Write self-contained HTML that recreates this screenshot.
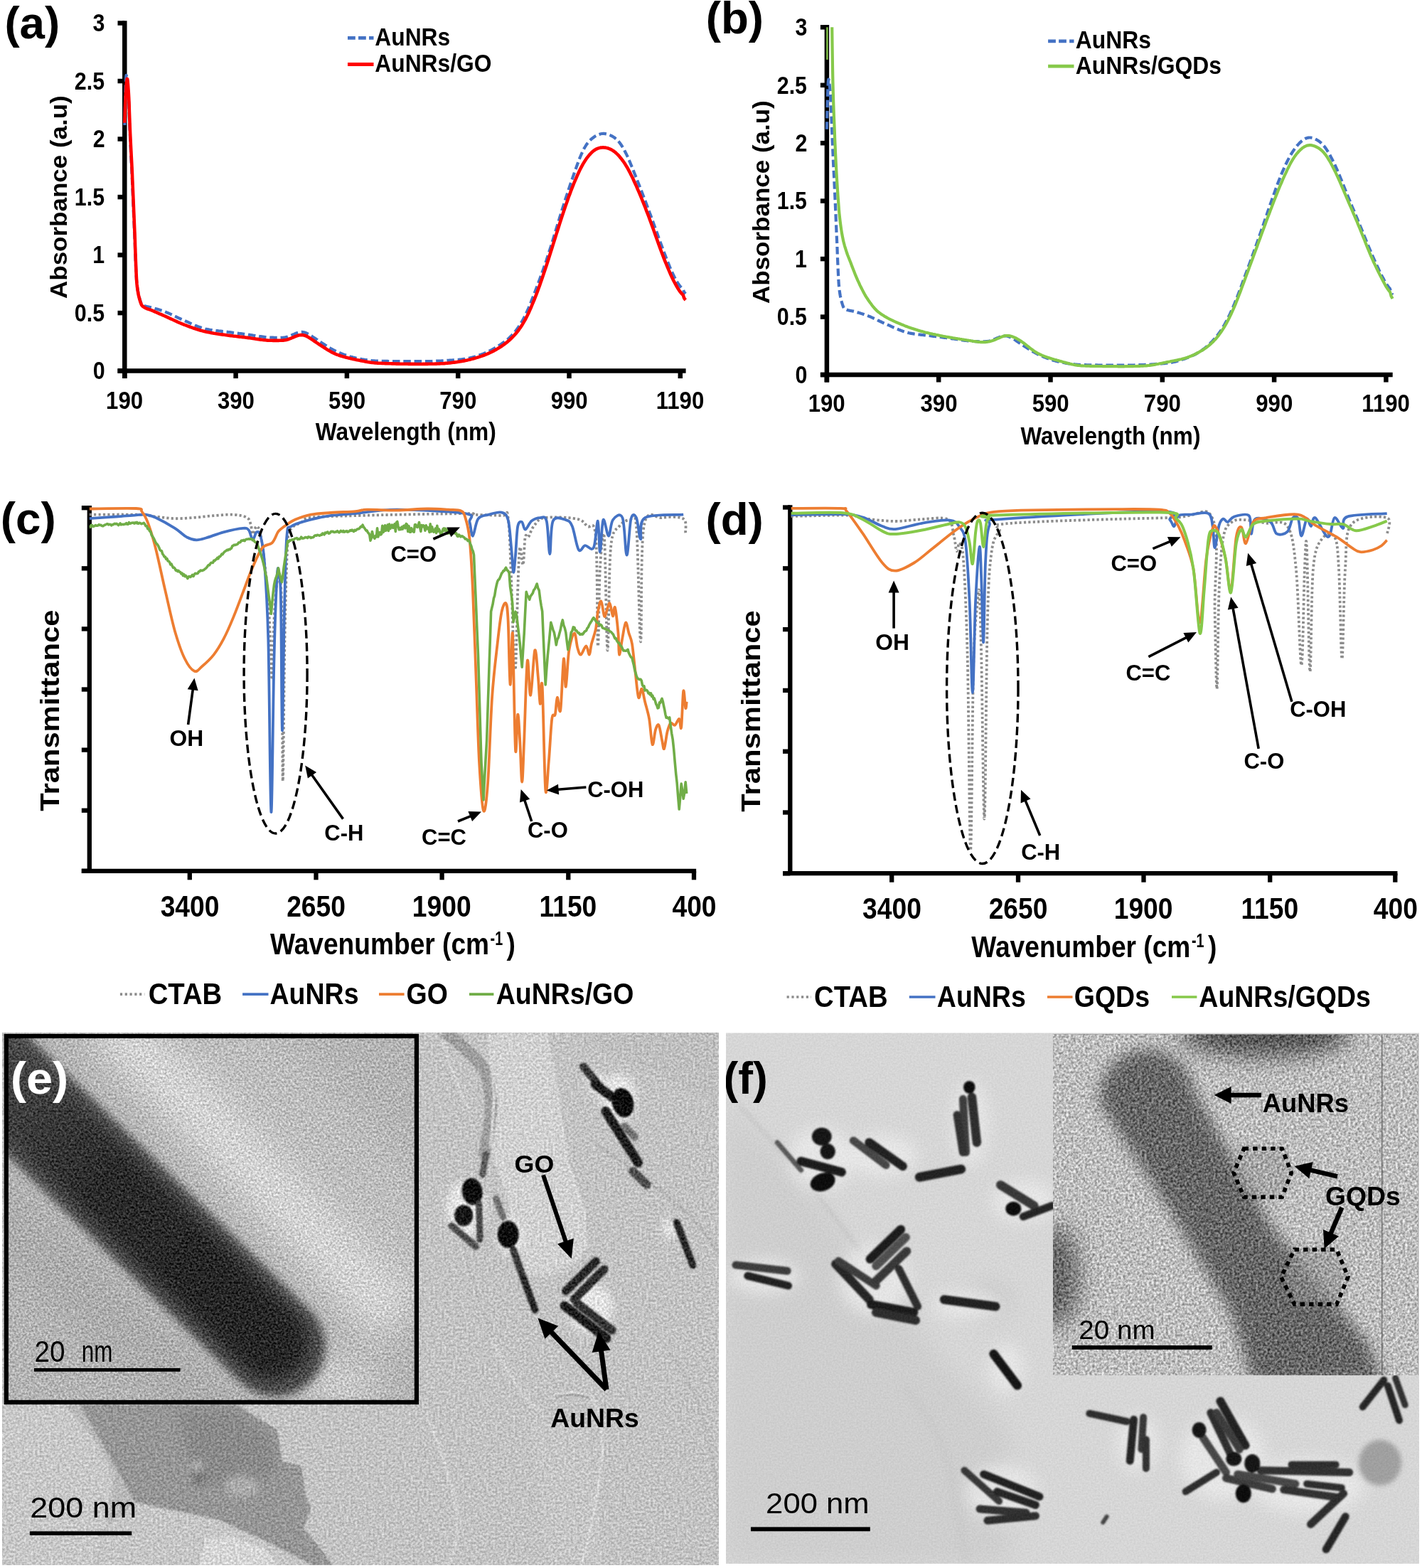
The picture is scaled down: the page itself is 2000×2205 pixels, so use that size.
<!DOCTYPE html>
<html><head><meta charset="utf-8"><title>Figure</title>
<style>html,body{margin:0;padding:0;background:#fff;} body{width:2000px;height:2205px;overflow:hidden;} svg{display:block;}</style>
</head><body>
<svg width="2000" height="2205" viewBox="0 0 2000 2205">
<defs>
<filter id="nz1" x="0" y="0" width="1" height="1" color-interpolation-filters="sRGB">
  <feTurbulence type="fractalNoise" baseFrequency="0.45" numOctaves="2" seed="3" result="t"/>
  <feColorMatrix in="t" type="matrix" values="1 0 0 0 0  1 0 0 0 0  1 0 0 0 0  0 0 0 0 1" result="n"/>
  <feComposite in="SourceGraphic" in2="n" operator="arithmetic" k1="0" k2="1" k3="0.30" k4="-0.15"/>
</filter>
<filter id="nz2" x="0" y="0" width="1" height="1" color-interpolation-filters="sRGB">
  <feTurbulence type="fractalNoise" baseFrequency="0.34" numOctaves="2" seed="7" result="t"/>
  <feColorMatrix in="t" type="matrix" values="1 0 0 0 0  1 0 0 0 0  1 0 0 0 0  0 0 0 0 1" result="n"/>
  <feComposite in="SourceGraphic" in2="n" operator="arithmetic" k1="0" k2="1" k3="0.55" k4="-0.275"/>
</filter>
<filter id="nz3" x="0" y="0" width="1" height="1" color-interpolation-filters="sRGB">
  <feTurbulence type="fractalNoise" baseFrequency="0.32" numOctaves="2" seed="11" result="t"/>
  <feColorMatrix in="t" type="matrix" values="1 0 0 0 0  1 0 0 0 0  1 0 0 0 0  0 0 0 0 1" result="n"/>
  <feComposite in="SourceGraphic" in2="n" operator="arithmetic" k1="0" k2="1" k3="0.42" k4="-0.21"/>
</filter>
<filter id="nz4" x="0" y="0" width="1" height="1" color-interpolation-filters="sRGB">
  <feTurbulence type="fractalNoise" baseFrequency="0.4" numOctaves="2" seed="5" result="t"/>
  <feColorMatrix in="t" type="matrix" values="1 0 0 0 0  1 0 0 0 0  1 0 0 0 0  0 0 0 0 1" result="n"/>
  <feComposite in="SourceGraphic" in2="n" operator="arithmetic" k1="0" k2="1" k3="0.10" k4="-0.05"/>
</filter>
<filter id="nz5" x="0" y="0" width="1" height="1" color-interpolation-filters="sRGB">
  <feTurbulence type="fractalNoise" baseFrequency="0.3" numOctaves="2" seed="9" result="t"/>
  <feColorMatrix in="t" type="matrix" values="1 0 0 0 0  1 0 0 0 0  1 0 0 0 0  0 0 0 0 1" result="n"/>
  <feComposite in="SourceGraphic" in2="n" operator="arithmetic" k1="0" k2="1" k3="0.75" k4="-0.36"/>
</filter>
<filter id="b1" x="-20%" y="-20%" width="140%" height="140%"><feGaussianBlur stdDeviation="1.2"/></filter>
<filter id="b3" x="-50%" y="-50%" width="200%" height="200%"><feGaussianBlur stdDeviation="3"/></filter>
<filter id="b6" x="-50%" y="-50%" width="200%" height="200%"><feGaussianBlur stdDeviation="6"/></filter>
<filter id="b10" x="-50%" y="-50%" width="200%" height="200%"><feGaussianBlur stdDeviation="10"/></filter>
<filter id="b16" x="-50%" y="-50%" width="200%" height="200%"><feGaussianBlur stdDeviation="16"/></filter>
<filter id="b25" x="-50%" y="-50%" width="200%" height="200%"><feGaussianBlur stdDeviation="25"/></filter>
<clipPath id="ce"><rect x="3" y="1452" width="1008" height="749"/></clipPath>
<clipPath id="cei"><rect x="8" y="1455" width="579" height="518"/></clipPath>
<clipPath id="cf"><rect x="1021" y="1452.5" width="975" height="746.5"/></clipPath>
<clipPath id="cfi"><rect x="1481" y="1454.5" width="513.5" height="479.5"/></clipPath>
<linearGradient id="rodg" gradientUnits="userSpaceOnUse" x1="0" y1="1450" x2="390" y2="1890"><stop offset="0" stop-color="#4a4a4a"/><stop offset="0.45" stop-color="#2a2a2a"/><stop offset="1" stop-color="#262626"/></linearGradient></defs>
<rect width="2000" height="2205" fill="#fff"/>
<g id="pa">
<line x1="175.3" y1="29.25" x2="175.3" y2="532.1" stroke="#000" stroke-width="6.5"/>
<line x1="165.5" y1="521.6" x2="964.6" y2="521.6" stroke="#000" stroke-width="6.5"/>
<line x1="165.5" y1="521.6" x2="175.3" y2="521.6" stroke="#000" stroke-width="6.5"/>
<line x1="165.5" y1="440.1" x2="175.3" y2="440.1" stroke="#000" stroke-width="6.5"/>
<line x1="165.5" y1="358.6" x2="175.3" y2="358.6" stroke="#000" stroke-width="6.5"/>
<line x1="165.5" y1="277.1" x2="175.3" y2="277.1" stroke="#000" stroke-width="6.5"/>
<line x1="165.5" y1="195.5" x2="175.3" y2="195.5" stroke="#000" stroke-width="6.5"/>
<line x1="165.5" y1="114.0" x2="175.3" y2="114.0" stroke="#000" stroke-width="6.5"/>
<line x1="165.5" y1="32.5" x2="175.3" y2="32.5" stroke="#000" stroke-width="6.5"/>
<line x1="175.3" y1="521.6" x2="175.3" y2="532.1" stroke="#000" stroke-width="6.5"/>
<line x1="331.6" y1="521.6" x2="331.6" y2="532.1" stroke="#000" stroke-width="6.5"/>
<line x1="487.9" y1="521.6" x2="487.9" y2="532.1" stroke="#000" stroke-width="6.5"/>
<line x1="644.2" y1="521.6" x2="644.2" y2="532.1" stroke="#000" stroke-width="6.5"/>
<line x1="800.5" y1="521.6" x2="800.5" y2="532.1" stroke="#000" stroke-width="6.5"/>
<line x1="956.8" y1="521.6" x2="956.8" y2="532.1" stroke="#000" stroke-width="6.5"/>
<path d="M175.3,176.0 L175.7,157.7 L176.1,141.0 L176.5,126.8 L176.9,115.7 L177.3,108.4 L177.6,105.9 L178.0,106.5 L178.4,108.3 L178.8,111.0 L179.2,114.3 L179.6,118.1 L180.0,122.2 L180.4,127.5 L180.8,135.0 L181.2,144.1 L181.6,154.3 L181.9,165.1 L182.3,175.9 L182.7,186.2 L183.1,195.5 L183.5,204.0 L183.9,212.2 L184.3,220.2 L184.7,228.1 L185.1,236.1 L185.5,244.1 L185.9,252.3 L186.2,260.8 L186.6,269.6 L187.0,278.7 L187.4,288.0 L187.8,297.4 L188.2,306.9 L188.6,316.2 L189.0,325.3 L189.4,334.1 L189.8,343.1 L190.1,352.7 L190.5,362.4 L190.9,371.8 L191.3,380.6 L191.7,388.4 L192.1,394.8 L192.5,399.3 L192.9,402.6 L193.3,405.5 L193.7,408.1 L194.1,410.4 L194.4,412.4 L194.8,414.2 L195.2,415.8 L195.6,417.3 L196.0,418.7 L196.4,420.1 L196.8,421.4 L197.2,422.7 L197.6,424.0 L198.0,425.1 L198.4,426.1 L198.7,427.0 L199.1,427.7 L199.5,428.2 L199.9,428.6 L200.3,428.9 L200.7,429.1 L201.1,429.3 L201.5,429.5 L201.9,429.6 L202.3,429.8 L202.7,430.0 L203.0,430.1 L203.4,430.3 L203.8,430.4 L204.2,430.5 L204.6,430.6 L205.0,430.7 L205.4,430.8 L205.8,430.9 L206.2,431.0 L206.6,431.1 L207.0,431.2 L207.3,431.3 L207.7,431.4 L208.1,431.4 L208.5,431.5 L208.9,431.6 L209.3,431.6 L209.7,431.7 L210.1,431.8 L210.5,431.9 L212.0,432.2 L213.6,432.5 L215.2,433.0 L216.7,433.4 L218.3,433.9 L219.8,434.4 L221.4,434.8 L223.0,435.3 L224.5,435.8 L226.1,436.3 L227.7,436.8 L229.2,437.3 L230.8,437.9 L232.3,438.5 L233.9,439.1 L235.5,439.8 L237.0,440.4 L238.6,441.1 L240.2,441.8 L241.7,442.6 L243.3,443.3 L244.9,444.1 L246.4,444.8 L248.0,445.6 L249.5,446.3 L251.1,447.1 L252.7,447.8 L254.2,448.5 L255.8,449.2 L257.4,449.9 L258.9,450.6 L260.5,451.3 L262.0,452.0 L263.6,452.7 L265.2,453.4 L266.7,454.1 L268.3,454.8 L269.9,455.5 L271.4,456.2 L273.0,456.9 L274.6,457.6 L276.1,458.2 L277.7,458.9 L279.2,459.5 L280.8,460.1 L282.4,460.6 L283.9,461.1 L285.5,461.6 L287.1,462.1 L288.6,462.5 L290.2,462.8 L291.7,463.1 L293.3,463.4 L294.9,463.7 L296.4,464.0 L298.0,464.2 L299.6,464.4 L301.1,464.6 L302.7,464.8 L304.2,465.0 L305.8,465.2 L307.4,465.4 L308.9,465.5 L310.5,465.7 L312.1,465.9 L313.6,466.1 L315.2,466.2 L316.8,466.4 L318.3,466.6 L319.9,466.8 L321.4,467.0 L323.0,467.2 L324.6,467.4 L326.1,467.6 L327.7,467.8 L329.3,468.0 L330.8,468.2 L332.4,468.4 L333.9,468.6 L335.5,468.8 L337.1,469.0 L338.6,469.2 L340.2,469.4 L341.8,469.6 L343.3,469.8 L344.9,470.0 L346.4,470.2 L348.0,470.4 L349.6,470.7 L351.1,470.9 L352.7,471.1 L354.3,471.3 L355.8,471.6 L357.4,471.8 L359.0,472.0 L360.5,472.3 L362.1,472.5 L363.6,472.7 L365.2,473.0 L366.8,473.2 L368.3,473.4 L369.9,473.6 L371.5,473.8 L373.0,474.0 L374.6,474.1 L376.1,474.3 L377.7,474.4 L379.3,474.5 L380.8,474.6 L382.4,474.7 L384.0,474.7 L385.5,474.8 L387.1,474.8 L388.6,474.9 L390.2,474.9 L391.8,475.0 L393.3,475.0 L394.9,474.9 L396.5,474.9 L398.0,474.8 L399.6,474.6 L401.2,474.4 L402.7,474.0 L404.3,473.6 L405.8,473.1 L407.4,472.5 L409.0,471.8 L410.5,471.2 L412.1,470.5 L413.7,469.8 L415.2,469.1 L416.8,468.5 L418.3,468.0 L419.9,467.5 L421.5,467.2 L423.0,467.0 L424.6,466.9 L426.2,467.0 L427.7,467.3 L429.3,467.7 L430.9,468.4 L432.4,469.1 L434.0,469.9 L435.5,470.9 L437.1,471.9 L438.7,472.9 L440.2,473.9 L441.8,475.0 L443.4,476.1 L444.9,477.1 L446.5,478.1 L448.0,479.2 L449.6,480.2 L451.2,481.3 L452.7,482.3 L454.3,483.3 L455.9,484.3 L457.4,485.3 L459.0,486.3 L460.5,487.3 L462.1,488.3 L463.7,489.2 L465.2,490.1 L466.8,491.0 L468.4,491.8 L469.9,492.6 L471.5,493.4 L473.1,494.1 L474.6,494.8 L476.2,495.5 L477.7,496.2 L479.3,496.8 L480.9,497.5 L482.4,498.1 L484.0,498.7 L485.6,499.2 L487.1,499.8 L488.7,500.3 L490.2,500.8 L491.8,501.3 L493.4,501.7 L494.9,502.1 L496.5,502.6 L498.1,502.9 L499.6,503.3 L501.2,503.7 L502.7,504.0 L504.3,504.3 L505.9,504.6 L507.4,504.9 L509.0,505.2 L510.6,505.5 L512.1,505.7 L513.7,506.0 L515.3,506.2 L516.8,506.4 L518.4,506.6 L519.9,506.8 L521.5,507.0 L523.1,507.2 L524.6,507.3 L526.2,507.4 L527.8,507.5 L529.3,507.6 L530.9,507.7 L532.4,507.7 L534.0,507.8 L535.6,507.8 L537.1,507.8 L538.7,507.9 L540.3,507.9 L541.8,507.9 L543.4,507.9 L544.9,507.9 L546.5,508.0 L548.1,508.0 L549.6,508.0 L551.2,508.0 L552.8,508.0 L554.3,508.1 L555.9,508.1 L557.5,508.1 L559.0,508.1 L560.6,508.1 L562.1,508.1 L563.7,508.1 L565.3,508.1 L566.8,508.2 L568.4,508.2 L570.0,508.2 L571.5,508.2 L573.1,508.2 L574.6,508.2 L576.2,508.2 L577.8,508.2 L579.3,508.2 L580.9,508.2 L582.5,508.2 L584.0,508.2 L585.6,508.2 L587.2,508.2 L588.7,508.2 L590.3,508.2 L591.8,508.2 L593.4,508.2 L595.0,508.2 L596.5,508.2 L598.1,508.2 L599.7,508.1 L601.2,508.1 L602.8,508.1 L604.3,508.0 L605.9,508.0 L607.5,508.0 L609.0,507.9 L610.6,507.9 L612.2,507.8 L613.7,507.7 L615.3,507.7 L616.8,507.6 L618.4,507.5 L620.0,507.5 L621.5,507.4 L623.1,507.3 L624.7,507.2 L626.2,507.1 L627.8,507.0 L629.4,506.9 L630.9,506.8 L632.5,506.7 L634.0,506.6 L635.6,506.5 L637.2,506.4 L638.7,506.3 L640.3,506.2 L641.9,506.1 L643.4,505.9 L645.0,505.8 L646.5,505.6 L648.1,505.5 L649.7,505.3 L651.2,505.1 L652.8,504.9 L654.4,504.7 L655.9,504.5 L657.5,504.2 L659.0,503.9 L660.6,503.5 L662.2,503.1 L663.7,502.7 L665.3,502.3 L666.9,501.9 L668.4,501.4 L670.0,500.9 L671.6,500.4 L673.1,499.9 L674.7,499.3 L676.2,498.8 L677.8,498.2 L679.4,497.6 L680.9,497.0 L682.5,496.3 L684.1,495.7 L685.6,494.9 L687.2,494.2 L688.7,493.4 L690.3,492.6 L691.9,491.8 L693.4,490.9 L695.0,490.1 L696.6,489.1 L698.1,488.2 L699.7,487.3 L701.2,486.3 L702.8,485.3 L704.4,484.3 L705.9,483.2 L707.5,482.1 L709.1,481.0 L710.6,479.8 L712.2,478.6 L713.8,477.3 L715.3,476.0 L716.9,474.5 L718.4,473.0 L720.0,471.4 L721.6,469.7 L723.1,467.9 L724.7,466.0 L726.3,464.0 L727.8,461.9 L729.4,459.6 L730.9,457.3 L732.5,454.8 L734.1,452.2 L735.6,449.4 L737.2,446.4 L738.8,443.3 L740.3,440.1 L741.9,436.6 L743.5,433.0 L745.0,429.3 L746.6,425.5 L748.1,421.5 L749.7,417.6 L751.3,413.5 L752.8,409.4 L754.4,405.3 L756.0,401.2 L757.5,397.0 L759.1,392.7 L760.6,388.4 L762.2,384.1 L763.8,379.7 L765.3,375.3 L766.9,370.7 L768.5,366.1 L770.0,361.4 L771.6,356.7 L773.1,351.8 L774.7,346.9 L776.3,341.9 L777.8,336.8 L779.4,331.6 L781.0,326.5 L782.5,321.3 L784.1,316.2 L785.7,311.0 L787.2,305.9 L788.8,300.8 L790.3,295.8 L791.9,290.8 L793.5,285.9 L795.0,281.0 L796.6,276.2 L798.2,271.4 L799.7,266.7 L801.3,262.0 L802.8,257.4 L804.4,252.8 L806.0,248.3 L807.5,243.8 L809.1,239.4 L810.7,235.0 L812.2,230.7 L813.8,226.5 L815.3,222.5 L816.9,218.7 L818.5,215.1 L820.0,211.7 L821.6,208.7 L823.2,206.0 L824.7,203.6 L826.3,201.4 L827.9,199.5 L829.4,197.8 L831.0,196.3 L832.5,194.9 L834.1,193.7 L835.7,192.5 L837.2,191.5 L838.8,190.6 L840.4,189.8 L841.9,189.2 L843.5,188.7 L845.0,188.3 L846.6,188.0 L848.2,187.9 L849.7,187.9 L851.3,188.1 L852.9,188.4 L854.4,188.8 L856.0,189.3 L857.5,189.9 L859.1,190.6 L860.7,191.4 L862.2,192.3 L863.8,193.3 L865.4,194.5 L866.9,195.8 L868.5,197.3 L870.1,199.0 L871.6,200.9 L873.2,203.0 L874.7,205.3 L876.3,207.9 L877.9,210.7 L879.4,213.7 L881.0,216.9 L882.6,220.2 L884.1,223.7 L885.7,227.3 L887.2,231.0 L888.8,234.8 L890.4,238.7 L891.9,242.6 L893.5,246.5 L895.1,250.5 L896.6,254.5 L898.2,258.5 L899.8,262.5 L901.3,266.5 L902.9,270.5 L904.4,274.5 L906.0,278.6 L907.6,282.7 L909.1,286.8 L910.7,291.0 L912.3,295.1 L913.8,299.4 L915.4,303.6 L916.9,307.9 L918.5,312.2 L920.1,316.6 L921.6,320.9 L923.2,325.3 L924.8,329.6 L926.3,334.0 L927.9,338.3 L929.4,342.6 L931.0,346.8 L932.6,351.0 L934.1,355.2 L935.7,359.3 L937.3,363.4 L938.8,367.4 L940.4,371.4 L942.0,375.2 L943.5,378.9 L945.1,382.4 L946.6,385.8 L948.2,389.0 L949.8,392.0 L951.3,394.8 L952.9,397.4 L954.5,399.8 L956.0,401.9 L957.6,403.8 L959.1,405.4 L960.7,406.8 L962.3,410.9 L963.8,412.4 L964.3,412.9" fill="none" stroke="#4472C4" stroke-width="4.2" stroke-dasharray="10.5 4.8" stroke-linejoin="round"/>
<path d="M175.3,172.7 L175.7,159.5 L176.1,147.5 L176.5,137.5 L176.9,130.3 L177.3,124.9 L177.6,119.9 L178.0,115.6 L178.4,112.5 L178.8,110.9 L179.2,111.3 L179.6,114.1 L180.0,118.8 L180.4,124.4 L180.8,130.3 L181.2,137.4 L181.6,146.4 L181.9,156.7 L182.3,167.4 L182.7,177.9 L183.1,187.4 L183.5,195.8 L183.9,203.9 L184.3,211.6 L184.7,219.3 L185.1,226.9 L185.5,234.6 L185.9,242.6 L186.2,251.0 L186.6,259.8 L187.0,268.9 L187.4,278.3 L187.8,287.9 L188.2,297.5 L188.6,307.1 L189.0,316.6 L189.4,326.0 L189.8,335.7 L190.1,346.2 L190.5,357.0 L190.9,367.6 L191.3,377.6 L191.7,386.5 L192.1,393.9 L192.5,399.2 L192.9,402.8 L193.3,405.9 L193.7,408.6 L194.1,410.9 L194.4,413.0 L194.8,414.9 L195.2,416.5 L195.6,418.1 L196.0,419.6 L196.4,421.0 L196.8,422.4 L197.2,423.7 L197.6,424.9 L198.0,426.1 L198.4,427.1 L198.7,428.0 L199.1,428.8 L199.5,429.4 L199.9,429.9 L200.3,430.3 L200.7,430.6 L201.1,430.9 L201.5,431.2 L201.9,431.5 L202.3,431.8 L202.7,432.0 L203.0,432.3 L203.4,432.5 L203.8,432.7 L204.2,433.0 L204.6,433.2 L205.0,433.3 L205.4,433.5 L205.8,433.7 L206.2,433.9 L206.6,434.0 L207.0,434.2 L207.3,434.3 L207.7,434.4 L208.1,434.6 L208.5,434.7 L208.9,434.8 L209.3,435.0 L209.7,435.1 L210.1,435.2 L210.5,435.4 L212.0,435.9 L213.6,436.5 L215.2,437.2 L216.7,437.9 L218.3,438.6 L219.8,439.2 L221.4,439.9 L223.0,440.6 L224.5,441.3 L226.1,441.9 L227.7,442.6 L229.2,443.3 L230.8,444.0 L232.3,444.7 L233.9,445.4 L235.5,446.1 L237.0,446.8 L238.6,447.6 L240.2,448.3 L241.7,449.0 L243.3,449.7 L244.9,450.5 L246.4,451.2 L248.0,451.9 L249.5,452.6 L251.1,453.3 L252.7,454.0 L254.2,454.7 L255.8,455.3 L257.4,455.9 L258.9,456.6 L260.5,457.1 L262.0,457.7 L263.6,458.3 L265.2,458.9 L266.7,459.5 L268.3,460.1 L269.9,460.6 L271.4,461.2 L273.0,461.7 L274.6,462.2 L276.1,462.8 L277.7,463.3 L279.2,463.7 L280.8,464.2 L282.4,464.7 L283.9,465.1 L285.5,465.5 L287.1,465.9 L288.6,466.3 L290.2,466.7 L291.7,467.0 L293.3,467.3 L294.9,467.6 L296.4,467.9 L298.0,468.2 L299.6,468.5 L301.1,468.8 L302.7,469.0 L304.2,469.3 L305.8,469.5 L307.4,469.7 L308.9,470.0 L310.5,470.2 L312.1,470.4 L313.6,470.6 L315.2,470.8 L316.8,471.0 L318.3,471.3 L319.9,471.5 L321.4,471.7 L323.0,471.9 L324.6,472.1 L326.1,472.3 L327.7,472.5 L329.3,472.7 L330.8,472.8 L332.4,473.0 L333.9,473.2 L335.5,473.4 L337.1,473.6 L338.6,473.8 L340.2,473.9 L341.8,474.1 L343.3,474.3 L344.9,474.5 L346.4,474.7 L348.0,474.9 L349.6,475.1 L351.1,475.3 L352.7,475.5 L354.3,475.7 L355.8,476.0 L357.4,476.2 L359.0,476.4 L360.5,476.7 L362.1,476.9 L363.6,477.1 L365.2,477.4 L366.8,477.6 L368.3,477.8 L369.9,478.0 L371.5,478.2 L373.0,478.3 L374.6,478.5 L376.1,478.6 L377.7,478.7 L379.3,478.7 L380.8,478.8 L382.4,478.8 L384.0,478.9 L385.5,478.9 L387.1,478.9 L388.6,478.9 L390.2,478.9 L391.8,478.9 L393.3,478.8 L394.9,478.8 L396.5,478.7 L398.0,478.6 L399.6,478.4 L401.2,478.2 L402.7,477.9 L404.3,477.5 L405.8,477.0 L407.4,476.4 L409.0,475.8 L410.5,475.2 L412.1,474.5 L413.7,473.9 L415.2,473.2 L416.8,472.6 L418.3,472.1 L419.9,471.6 L421.5,471.3 L423.0,471.1 L424.6,471.0 L426.2,471.2 L427.7,471.5 L429.3,472.0 L430.9,472.6 L432.4,473.4 L434.0,474.3 L435.5,475.3 L437.1,476.3 L438.7,477.4 L440.2,478.4 L441.8,479.5 L443.4,480.6 L444.9,481.6 L446.5,482.7 L448.0,483.7 L449.6,484.7 L451.2,485.7 L452.7,486.8 L454.3,487.8 L455.9,488.8 L457.4,489.8 L459.0,490.8 L460.5,491.8 L462.1,492.7 L463.7,493.6 L465.2,494.5 L466.8,495.4 L468.4,496.2 L469.9,496.9 L471.5,497.6 L473.1,498.3 L474.6,498.9 L476.2,499.4 L477.7,500.0 L479.3,500.5 L480.9,500.9 L482.4,501.4 L484.0,501.8 L485.6,502.3 L487.1,502.7 L488.7,503.1 L490.2,503.4 L491.8,503.8 L493.4,504.2 L494.9,504.5 L496.5,504.9 L498.1,505.2 L499.6,505.5 L501.2,505.9 L502.7,506.2 L504.3,506.5 L505.9,506.8 L507.4,507.2 L509.0,507.5 L510.6,507.8 L512.1,508.1 L513.7,508.4 L515.3,508.7 L516.8,508.9 L518.4,509.2 L519.9,509.4 L521.5,509.7 L523.1,509.9 L524.6,510.0 L526.2,510.2 L527.8,510.4 L529.3,510.5 L530.9,510.6 L532.4,510.7 L534.0,510.8 L535.6,510.8 L537.1,510.9 L538.7,511.0 L540.3,511.0 L541.8,511.1 L543.4,511.1 L544.9,511.2 L546.5,511.2 L548.1,511.3 L549.6,511.3 L551.2,511.4 L552.8,511.4 L554.3,511.5 L555.9,511.5 L557.5,511.6 L559.0,511.6 L560.6,511.6 L562.1,511.7 L563.7,511.7 L565.3,511.7 L566.8,511.8 L568.4,511.8 L570.0,511.8 L571.5,511.8 L573.1,511.8 L574.6,511.9 L576.2,511.9 L577.8,511.9 L579.3,511.9 L580.9,511.9 L582.5,511.9 L584.0,512.0 L585.6,512.0 L587.2,512.0 L588.7,512.0 L590.3,512.0 L591.8,512.0 L593.4,512.0 L595.0,511.9 L596.5,511.9 L598.1,511.9 L599.7,511.9 L601.2,511.9 L602.8,511.8 L604.3,511.8 L605.9,511.8 L607.5,511.7 L609.0,511.7 L610.6,511.7 L612.2,511.6 L613.7,511.6 L615.3,511.5 L616.8,511.5 L618.4,511.4 L620.0,511.3 L621.5,511.2 L623.1,511.2 L624.7,511.1 L626.2,510.9 L627.8,510.8 L629.4,510.7 L630.9,510.5 L632.5,510.4 L634.0,510.2 L635.6,510.0 L637.2,509.8 L638.7,509.6 L640.3,509.4 L641.9,509.2 L643.4,508.9 L645.0,508.7 L646.5,508.4 L648.1,508.2 L649.7,507.9 L651.2,507.6 L652.8,507.4 L654.4,507.0 L655.9,506.7 L657.5,506.4 L659.0,506.0 L660.6,505.7 L662.2,505.3 L663.7,504.9 L665.3,504.5 L666.9,504.0 L668.4,503.6 L670.0,503.1 L671.6,502.6 L673.1,502.2 L674.7,501.6 L676.2,501.1 L677.8,500.6 L679.4,500.0 L680.9,499.5 L682.5,498.9 L684.1,498.2 L685.6,497.6 L687.2,496.9 L688.7,496.2 L690.3,495.5 L691.9,494.7 L693.4,493.9 L695.0,493.1 L696.6,492.2 L698.1,491.4 L699.7,490.4 L701.2,489.5 L702.8,488.5 L704.4,487.5 L705.9,486.5 L707.5,485.4 L709.1,484.3 L710.6,483.1 L712.2,481.9 L713.8,480.6 L715.3,479.3 L716.9,477.9 L718.4,476.5 L720.0,474.9 L721.6,473.3 L723.1,471.7 L724.7,469.9 L726.3,468.1 L727.8,466.2 L729.4,464.2 L730.9,462.0 L732.5,459.8 L734.1,457.4 L735.6,454.9 L737.2,452.2 L738.8,449.4 L740.3,446.4 L741.9,443.3 L743.5,440.0 L745.0,436.6 L746.6,433.1 L748.1,429.4 L749.7,425.7 L751.3,421.8 L752.8,417.9 L754.4,413.8 L756.0,409.7 L757.5,405.5 L759.1,401.1 L760.6,396.7 L762.2,392.2 L763.8,387.6 L765.3,383.0 L766.9,378.3 L768.5,373.5 L770.0,368.7 L771.6,363.9 L773.1,359.0 L774.7,354.0 L776.3,349.1 L777.8,344.1 L779.4,339.1 L781.0,334.1 L782.5,329.1 L784.1,324.2 L785.7,319.3 L787.2,314.4 L788.8,309.5 L790.3,304.8 L791.9,300.0 L793.5,295.3 L795.0,290.7 L796.6,286.2 L798.2,281.7 L799.7,277.3 L801.3,273.1 L802.8,268.9 L804.4,264.8 L806.0,260.9 L807.5,257.0 L809.1,253.3 L810.7,249.7 L812.2,246.2 L813.8,242.8 L815.3,239.5 L816.9,236.4 L818.5,233.4 L820.0,230.6 L821.6,228.0 L823.2,225.5 L824.7,223.2 L826.3,221.1 L827.9,219.1 L829.4,217.3 L831.0,215.6 L832.5,214.1 L834.1,212.7 L835.7,211.5 L837.2,210.5 L838.8,209.6 L840.4,208.9 L841.9,208.4 L843.5,207.9 L845.0,207.6 L846.6,207.5 L848.2,207.4 L849.7,207.5 L851.3,207.6 L852.9,207.9 L854.4,208.3 L856.0,208.8 L857.5,209.4 L859.1,210.1 L860.7,211.0 L862.2,211.9 L863.8,213.0 L865.4,214.2 L866.9,215.6 L868.5,217.1 L870.1,218.7 L871.6,220.5 L873.2,222.4 L874.7,224.4 L876.3,226.5 L877.9,228.8 L879.4,231.1 L881.0,233.7 L882.6,236.3 L884.1,239.1 L885.7,242.1 L887.2,245.2 L888.8,248.3 L890.4,251.6 L891.9,255.0 L893.5,258.4 L895.1,261.9 L896.6,265.5 L898.2,269.1 L899.8,272.8 L901.3,276.5 L902.9,280.3 L904.4,284.2 L906.0,288.1 L907.6,292.0 L909.1,296.1 L910.7,300.1 L912.3,304.3 L913.8,308.5 L915.4,312.7 L916.9,317.0 L918.5,321.3 L920.1,325.7 L921.6,330.1 L923.2,334.5 L924.8,338.9 L926.3,343.3 L927.9,347.6 L929.4,351.8 L931.0,356.0 L932.6,360.1 L934.1,364.1 L935.7,368.1 L937.3,371.9 L938.8,375.7 L940.4,379.4 L942.0,383.0 L943.5,386.5 L945.1,389.9 L946.6,393.1 L948.2,396.2 L949.8,399.2 L951.3,402.0 L952.9,404.7 L954.5,407.2 L956.0,409.5 L957.6,411.5 L959.1,413.3 L960.7,414.8 L962.3,419.4 L963.8,421.3 L964.3,421.8" fill="none" stroke="#FF0000" stroke-width="4.6" stroke-linejoin="round"/>
<text transform="translate(6.41,53.80) scale(1.0000,1)" font-family="'Liberation Sans', sans-serif" font-weight="bold" font-size="63.70" text-anchor="start" fill="#000" >(a)</text>
<text transform="translate(130.66,533.40) scale(0.8800,1)" font-family="'Liberation Sans', sans-serif" font-weight="bold" font-size="34.50" text-anchor="start" fill="#000" >0</text>
<text transform="translate(104.86,451.89) scale(0.8800,1)" font-family="'Liberation Sans', sans-serif" font-weight="bold" font-size="34.50" text-anchor="start" fill="#000" >0.5</text>
<text transform="translate(130.21,370.37) scale(0.8800,1)" font-family="'Liberation Sans', sans-serif" font-weight="bold" font-size="34.50" text-anchor="start" fill="#000" >1</text>
<text transform="translate(104.86,288.86) scale(0.8800,1)" font-family="'Liberation Sans', sans-serif" font-weight="bold" font-size="34.50" text-anchor="start" fill="#000" >1.5</text>
<text transform="translate(130.66,207.34) scale(0.8800,1)" font-family="'Liberation Sans', sans-serif" font-weight="bold" font-size="34.50" text-anchor="start" fill="#000" >2</text>
<text transform="translate(104.86,125.83) scale(0.8800,1)" font-family="'Liberation Sans', sans-serif" font-weight="bold" font-size="34.50" text-anchor="start" fill="#000" >2.5</text>
<text transform="translate(130.51,44.31) scale(0.8800,1)" font-family="'Liberation Sans', sans-serif" font-weight="bold" font-size="34.50" text-anchor="start" fill="#000" >3</text>
<text transform="translate(149.06,575.00) scale(0.8900,1)" font-family="'Liberation Sans', sans-serif" font-weight="bold" font-size="35.00" text-anchor="start" fill="#000" >190</text>
<text transform="translate(305.90,575.00) scale(0.8900,1)" font-family="'Liberation Sans', sans-serif" font-weight="bold" font-size="35.00" text-anchor="start" fill="#000" >390</text>
<text transform="translate(462.12,575.00) scale(0.8900,1)" font-family="'Liberation Sans', sans-serif" font-weight="bold" font-size="35.00" text-anchor="start" fill="#000" >590</text>
<text transform="translate(618.27,575.00) scale(0.8900,1)" font-family="'Liberation Sans', sans-serif" font-weight="bold" font-size="35.00" text-anchor="start" fill="#000" >790</text>
<text transform="translate(774.65,575.00) scale(0.8900,1)" font-family="'Liberation Sans', sans-serif" font-weight="bold" font-size="35.00" text-anchor="start" fill="#000" >990</text>
<text transform="translate(922.69,575.00) scale(0.8900,1)" font-family="'Liberation Sans', sans-serif" font-weight="bold" font-size="35.00" text-anchor="start" fill="#000" >1190</text>
<text transform="translate(443.80,619.00) scale(0.9055,1)" font-family="'Liberation Sans', sans-serif" font-weight="bold" font-size="35.00" text-anchor="start" fill="#000" >Wavelength (nm)</text>
<text transform="translate(93.70,277.10) scale(0.9300,1) rotate(-90)" font-family="'Liberation Sans', sans-serif" font-weight="bold" font-size="35.00" text-anchor="middle" fill="#000">Absorbance (a.u)</text>
<line x1="489" y1="53.3" x2="525.5" y2="53.3" stroke="#4472C4" stroke-width="4.8" stroke-dasharray="10.8 4.2" stroke-linecap="butt"/>
<line x1="489" y1="90.6" x2="525.5" y2="90.6" stroke="#FF0000" stroke-width="5"/>
<text transform="translate(527.31,63.80) scale(0.9000,1)" font-family="'Liberation Sans', sans-serif" font-weight="bold" font-size="35.30" text-anchor="start" fill="#000" >AuNRs</text>
<text transform="translate(527.31,100.50) scale(0.9000,1)" font-family="'Liberation Sans', sans-serif" font-weight="bold" font-size="35.30" text-anchor="start" fill="#000" >AuNRs/GO</text>
</g>
<g id="pb">
<line x1="1162.9" y1="35.05" x2="1162.9" y2="537.5" stroke="#000" stroke-width="6.5"/>
<line x1="1153.9" y1="527.0" x2="1958.7" y2="527.0" stroke="#000" stroke-width="6.5"/>
<line x1="1153.9" y1="527.0" x2="1162.9" y2="527.0" stroke="#000" stroke-width="6.5"/>
<line x1="1153.9" y1="445.6" x2="1162.9" y2="445.6" stroke="#000" stroke-width="6.5"/>
<line x1="1153.9" y1="364.1" x2="1162.9" y2="364.1" stroke="#000" stroke-width="6.5"/>
<line x1="1153.9" y1="282.6" x2="1162.9" y2="282.6" stroke="#000" stroke-width="6.5"/>
<line x1="1153.9" y1="201.2" x2="1162.9" y2="201.2" stroke="#000" stroke-width="6.5"/>
<line x1="1153.9" y1="119.8" x2="1162.9" y2="119.8" stroke="#000" stroke-width="6.5"/>
<line x1="1153.9" y1="38.3" x2="1162.9" y2="38.3" stroke="#000" stroke-width="6.5"/>
<line x1="1162.9" y1="527.0" x2="1162.9" y2="537.5" stroke="#000" stroke-width="6.5"/>
<line x1="1320.2" y1="527.0" x2="1320.2" y2="537.5" stroke="#000" stroke-width="6.5"/>
<line x1="1477.5" y1="527.0" x2="1477.5" y2="537.5" stroke="#000" stroke-width="6.5"/>
<line x1="1634.8" y1="527.0" x2="1634.8" y2="537.5" stroke="#000" stroke-width="6.5"/>
<line x1="1792.1" y1="527.0" x2="1792.1" y2="537.5" stroke="#000" stroke-width="6.5"/>
<line x1="1949.4" y1="527.0" x2="1949.4" y2="537.5" stroke="#000" stroke-width="6.5"/>
<clipPath id="cb"><rect x="1160" y="37.299999999999955" width="810" height="500"/></clipPath>
<path d="M1162.9,181.7 L1163.3,163.4 L1163.7,146.7 L1164.1,132.5 L1164.5,121.4 L1164.9,114.2 L1165.3,111.6 L1165.7,112.2 L1166.0,114.0 L1166.4,116.7 L1166.8,120.0 L1167.2,123.9 L1167.6,127.9 L1168.0,133.2 L1168.4,140.7 L1168.8,149.8 L1169.2,160.0 L1169.6,170.8 L1170.0,181.6 L1170.4,191.9 L1170.8,201.2 L1171.2,209.7 L1171.6,217.8 L1171.9,225.9 L1172.3,233.8 L1172.7,241.7 L1173.1,249.7 L1173.5,257.9 L1173.9,266.4 L1174.3,275.2 L1174.7,284.3 L1175.1,293.6 L1175.5,303.0 L1175.9,312.4 L1176.3,321.7 L1176.7,330.9 L1177.1,339.7 L1177.5,348.7 L1177.8,358.2 L1178.2,367.9 L1178.6,377.4 L1179.0,386.2 L1179.4,393.9 L1179.8,400.3 L1180.2,404.8 L1180.6,408.1 L1181.0,411.0 L1181.4,413.6 L1181.8,415.9 L1182.2,417.9 L1182.6,419.7 L1183.0,421.3 L1183.3,422.7 L1183.7,424.2 L1184.1,425.6 L1184.5,426.9 L1184.9,428.2 L1185.3,429.4 L1185.7,430.6 L1186.1,431.6 L1186.5,432.4 L1186.9,433.2 L1187.3,433.7 L1187.7,434.1 L1188.1,434.3 L1188.5,434.5 L1188.9,434.7 L1189.2,434.9 L1189.6,435.1 L1190.0,435.3 L1190.4,435.4 L1190.8,435.6 L1191.2,435.7 L1191.6,435.9 L1192.0,436.0 L1192.4,436.1 L1192.8,436.2 L1193.2,436.3 L1193.6,436.4 L1194.0,436.5 L1194.4,436.6 L1194.8,436.7 L1195.1,436.8 L1195.5,436.8 L1195.9,436.9 L1196.3,437.0 L1196.7,437.0 L1197.1,437.1 L1197.5,437.2 L1197.9,437.3 L1198.3,437.3 L1199.9,437.6 L1201.4,438.0 L1203.0,438.5 L1204.6,438.9 L1206.2,439.4 L1207.7,439.8 L1209.3,440.3 L1210.9,440.8 L1212.4,441.2 L1214.0,441.7 L1215.6,442.3 L1217.2,442.8 L1218.7,443.4 L1220.3,444.0 L1221.9,444.6 L1223.5,445.2 L1225.0,445.9 L1226.6,446.6 L1228.2,447.3 L1229.8,448.0 L1231.3,448.8 L1232.9,449.5 L1234.5,450.3 L1236.0,451.0 L1237.6,451.8 L1239.2,452.5 L1240.8,453.3 L1242.3,454.0 L1243.9,454.7 L1245.5,455.4 L1247.1,456.1 L1248.6,456.8 L1250.2,457.4 L1251.8,458.1 L1253.3,458.8 L1254.9,459.6 L1256.5,460.3 L1258.1,461.0 L1259.6,461.7 L1261.2,462.4 L1262.8,463.0 L1264.4,463.7 L1265.9,464.3 L1267.5,464.9 L1269.1,465.5 L1270.7,466.1 L1272.2,466.6 L1273.8,467.1 L1275.4,467.5 L1276.9,467.9 L1278.5,468.3 L1280.1,468.6 L1281.7,468.9 L1283.2,469.2 L1284.8,469.4 L1286.4,469.7 L1288.0,469.9 L1289.5,470.1 L1291.1,470.3 L1292.7,470.5 L1294.2,470.6 L1295.8,470.8 L1297.4,471.0 L1299.0,471.2 L1300.5,471.3 L1302.1,471.5 L1303.7,471.7 L1305.3,471.9 L1306.8,472.0 L1308.4,472.2 L1310.0,472.4 L1311.5,472.6 L1313.1,472.8 L1314.7,473.0 L1316.3,473.2 L1317.8,473.4 L1319.4,473.6 L1321.0,473.8 L1322.6,474.0 L1324.1,474.2 L1325.7,474.4 L1327.3,474.6 L1328.9,474.8 L1330.4,475.0 L1332.0,475.3 L1333.6,475.5 L1335.1,475.7 L1336.7,475.9 L1338.3,476.1 L1339.9,476.3 L1341.4,476.5 L1343.0,476.8 L1344.6,477.0 L1346.2,477.2 L1347.7,477.5 L1349.3,477.7 L1350.9,477.9 L1352.4,478.2 L1354.0,478.4 L1355.6,478.6 L1357.2,478.8 L1358.7,479.0 L1360.3,479.2 L1361.9,479.4 L1363.5,479.6 L1365.0,479.7 L1366.6,479.8 L1368.2,479.9 L1369.7,480.0 L1371.3,480.1 L1372.9,480.2 L1374.5,480.2 L1376.0,480.3 L1377.6,480.3 L1379.2,480.4 L1380.8,480.4 L1382.3,480.4 L1383.9,480.4 L1385.5,480.3 L1387.1,480.2 L1388.6,480.1 L1390.2,479.8 L1391.8,479.5 L1393.3,479.0 L1394.9,478.5 L1396.5,477.9 L1398.1,477.3 L1399.6,476.6 L1401.2,475.9 L1402.8,475.2 L1404.4,474.6 L1405.9,474.0 L1407.5,473.4 L1409.1,473.0 L1410.6,472.6 L1412.2,472.4 L1413.8,472.4 L1415.4,472.5 L1416.9,472.7 L1418.5,473.2 L1420.1,473.8 L1421.7,474.5 L1423.2,475.4 L1424.8,476.3 L1426.4,477.3 L1428.0,478.3 L1429.5,479.4 L1431.1,480.4 L1432.7,481.5 L1434.2,482.5 L1435.8,483.6 L1437.4,484.6 L1439.0,485.7 L1440.5,486.7 L1442.1,487.7 L1443.7,488.7 L1445.3,489.8 L1446.8,490.8 L1448.4,491.7 L1450.0,492.7 L1451.5,493.7 L1453.1,494.6 L1454.7,495.5 L1456.3,496.4 L1457.8,497.2 L1459.4,498.0 L1461.0,498.8 L1462.6,499.5 L1464.1,500.3 L1465.7,500.9 L1467.3,501.6 L1468.8,502.3 L1470.4,502.9 L1472.0,503.5 L1473.6,504.1 L1475.1,504.6 L1476.7,505.2 L1478.3,505.7 L1479.9,506.2 L1481.4,506.7 L1483.0,507.1 L1484.6,507.6 L1486.2,508.0 L1487.7,508.4 L1489.3,508.7 L1490.9,509.1 L1492.4,509.4 L1494.0,509.7 L1495.6,510.0 L1497.2,510.3 L1498.7,510.6 L1500.3,510.9 L1501.9,511.1 L1503.5,511.4 L1505.0,511.6 L1506.6,511.8 L1508.2,512.0 L1509.7,512.2 L1511.3,512.4 L1512.9,512.6 L1514.5,512.7 L1516.0,512.8 L1517.6,512.9 L1519.2,513.0 L1520.8,513.1 L1522.3,513.1 L1523.9,513.2 L1525.5,513.2 L1527.0,513.2 L1528.6,513.3 L1530.2,513.3 L1531.8,513.3 L1533.3,513.3 L1534.9,513.4 L1536.5,513.4 L1538.1,513.4 L1539.6,513.4 L1541.2,513.4 L1542.8,513.4 L1544.4,513.5 L1545.9,513.5 L1547.5,513.5 L1549.1,513.5 L1550.6,513.5 L1552.2,513.5 L1553.8,513.5 L1555.4,513.6 L1556.9,513.6 L1558.5,513.6 L1560.1,513.6 L1561.7,513.6 L1563.2,513.6 L1564.8,513.6 L1566.4,513.6 L1567.9,513.6 L1569.5,513.6 L1571.1,513.6 L1572.7,513.6 L1574.2,513.6 L1575.8,513.6 L1577.4,513.6 L1579.0,513.6 L1580.5,513.6 L1582.1,513.6 L1583.7,513.6 L1585.3,513.6 L1586.8,513.6 L1588.4,513.6 L1590.0,513.5 L1591.5,513.5 L1593.1,513.5 L1594.7,513.5 L1596.3,513.4 L1597.8,513.4 L1599.4,513.3 L1601.0,513.3 L1602.6,513.2 L1604.1,513.2 L1605.7,513.1 L1607.3,513.0 L1608.8,513.0 L1610.4,512.9 L1612.0,512.8 L1613.6,512.7 L1615.1,512.6 L1616.7,512.5 L1618.3,512.5 L1619.9,512.4 L1621.4,512.3 L1623.0,512.2 L1624.6,512.0 L1626.1,511.9 L1627.7,511.8 L1629.3,511.7 L1630.9,511.6 L1632.4,511.5 L1634.0,511.3 L1635.6,511.2 L1637.2,511.1 L1638.7,510.9 L1640.3,510.7 L1641.9,510.6 L1643.5,510.4 L1645.0,510.1 L1646.6,509.9 L1648.2,509.6 L1649.7,509.3 L1651.3,508.9 L1652.9,508.6 L1654.5,508.2 L1656.0,507.7 L1657.6,507.3 L1659.2,506.8 L1660.8,506.3 L1662.3,505.8 L1663.9,505.3 L1665.5,504.8 L1667.0,504.2 L1668.6,503.6 L1670.2,503.0 L1671.8,502.4 L1673.3,501.8 L1674.9,501.1 L1676.5,500.4 L1678.1,499.7 L1679.6,499.0 L1681.2,498.2 L1682.8,497.3 L1684.3,496.4 L1685.9,495.5 L1687.5,494.5 L1689.1,493.5 L1690.6,492.5 L1692.2,491.3 L1693.8,490.2 L1695.4,488.9 L1696.9,487.6 L1698.5,486.3 L1700.1,484.8 L1701.7,483.3 L1703.2,481.8 L1704.8,480.2 L1706.4,478.5 L1707.9,476.7 L1709.5,474.9 L1711.1,473.0 L1712.7,471.0 L1714.2,468.9 L1715.8,466.7 L1717.4,464.4 L1719.0,461.9 L1720.5,459.4 L1722.1,456.7 L1723.7,453.9 L1725.2,450.9 L1726.8,447.9 L1728.4,444.7 L1730.0,441.4 L1731.5,438.0 L1733.1,434.5 L1734.7,430.9 L1736.3,427.1 L1737.8,423.3 L1739.4,419.3 L1741.0,415.3 L1742.6,411.1 L1744.1,406.9 L1745.7,402.7 L1747.3,398.4 L1748.8,394.1 L1750.4,389.8 L1752.0,385.5 L1753.6,381.2 L1755.1,376.9 L1756.7,372.7 L1758.3,368.4 L1759.9,364.1 L1761.4,359.7 L1763.0,355.4 L1764.6,351.0 L1766.1,346.7 L1767.7,342.2 L1769.3,337.8 L1770.9,333.3 L1772.4,328.7 L1774.0,324.2 L1775.6,319.6 L1777.2,315.0 L1778.7,310.4 L1780.3,305.8 L1781.9,301.2 L1783.4,296.6 L1785.0,292.1 L1786.6,287.5 L1788.2,283.0 L1789.7,278.5 L1791.3,274.1 L1792.9,269.7 L1794.5,265.3 L1796.0,261.0 L1797.6,256.8 L1799.2,252.7 L1800.8,248.8 L1802.3,244.9 L1803.9,241.2 L1805.5,237.6 L1807.0,234.1 L1808.6,230.7 L1810.2,227.5 L1811.8,224.4 L1813.3,221.4 L1814.9,218.6 L1816.5,215.9 L1818.1,213.4 L1819.6,211.1 L1821.2,208.8 L1822.8,206.8 L1824.3,204.9 L1825.9,203.1 L1827.5,201.4 L1829.1,199.9 L1830.6,198.5 L1832.2,197.3 L1833.8,196.2 L1835.4,195.2 L1836.9,194.5 L1838.5,194.0 L1840.1,193.6 L1841.6,193.5 L1843.2,193.5 L1844.8,193.8 L1846.4,194.1 L1847.9,194.6 L1849.5,195.3 L1851.1,196.1 L1852.7,197.0 L1854.2,198.0 L1855.8,199.1 L1857.4,200.4 L1859.0,201.8 L1860.5,203.4 L1862.1,205.2 L1863.7,207.2 L1865.2,209.4 L1866.8,211.8 L1868.4,214.4 L1870.0,217.1 L1871.5,220.0 L1873.1,222.9 L1874.7,226.1 L1876.3,229.3 L1877.8,232.6 L1879.4,236.1 L1881.0,239.7 L1882.5,243.3 L1884.1,247.1 L1885.7,251.0 L1887.3,254.9 L1888.8,258.8 L1890.4,262.8 L1892.0,266.7 L1893.6,270.6 L1895.1,274.5 L1896.7,278.3 L1898.3,282.1 L1899.9,285.9 L1901.4,289.7 L1903.0,293.5 L1904.6,297.2 L1906.1,301.0 L1907.7,304.8 L1909.3,308.6 L1910.9,312.4 L1912.4,316.2 L1914.0,320.1 L1915.6,323.9 L1917.2,327.8 L1918.7,331.7 L1920.3,335.6 L1921.9,339.5 L1923.4,343.3 L1925.0,347.1 L1926.6,350.9 L1928.2,354.6 L1929.7,358.3 L1931.3,361.9 L1932.9,365.4 L1934.5,368.9 L1936.0,372.3 L1937.6,375.7 L1939.2,379.0 L1940.7,382.3 L1942.3,385.5 L1943.9,388.6 L1945.5,391.6 L1947.0,394.5 L1948.6,397.2 L1950.2,399.8 L1951.8,402.1 L1953.3,404.1 L1954.9,405.9 L1956.5,411.3 L1958.1,413.8 L1958.6,414.6" fill="none" stroke="#4472C4" stroke-width="4.2" stroke-dasharray="10.5 4.8" stroke-linejoin="round"/>
<path d="M1163.4,83.9 L1163.4,38.3" fill="none" stroke="#86C94A" stroke-width="2.4"/>
<path d="M1170.2,38.3 L1170.6,67.8 L1171.0,94.3 L1171.4,114.9 L1171.8,130.3 L1172.2,143.5 L1172.6,155.1 L1173.0,165.5 L1173.4,175.2 L1173.8,184.6 L1174.1,194.1 L1174.5,203.2 L1174.9,212.0 L1175.3,220.4 L1175.7,228.5 L1176.1,236.2 L1176.5,243.5 L1176.9,250.4 L1177.3,257.0 L1177.7,263.2 L1178.1,269.2 L1178.5,275.1 L1178.9,280.7 L1179.3,286.0 L1179.7,291.1 L1180.0,295.8 L1180.4,300.1 L1180.8,304.0 L1181.2,307.5 L1181.6,310.9 L1182.0,314.1 L1182.4,317.1 L1182.8,320.0 L1183.2,322.7 L1183.6,325.3 L1184.0,327.8 L1184.4,330.0 L1184.8,332.2 L1185.2,334.2 L1185.6,336.0 L1185.9,337.8 L1186.3,339.4 L1186.7,341.0 L1187.1,342.5 L1187.5,344.0 L1187.9,345.5 L1188.3,346.8 L1188.7,348.2 L1189.1,349.5 L1189.5,350.7 L1189.9,352.0 L1190.3,353.2 L1190.7,354.3 L1191.1,355.5 L1191.4,356.6 L1191.8,357.6 L1192.2,358.7 L1192.6,359.7 L1193.0,360.8 L1193.4,361.8 L1193.8,362.8 L1194.2,363.8 L1194.6,364.8 L1195.0,365.8 L1195.4,366.7 L1195.8,367.7 L1196.2,368.7 L1196.6,369.7 L1197.0,370.8 L1197.3,371.8 L1197.7,372.8 L1198.1,373.9 L1198.5,374.9 L1200.1,379.0 L1201.7,383.0 L1203.2,386.9 L1204.8,390.6 L1206.4,394.3 L1208.0,397.7 L1209.5,401.1 L1211.1,404.3 L1212.7,407.4 L1214.3,410.4 L1215.8,413.3 L1217.4,416.1 L1219.0,418.6 L1220.6,421.0 L1222.1,423.3 L1223.7,425.5 L1225.3,427.6 L1226.8,429.7 L1228.4,431.7 L1230.0,433.5 L1231.6,435.2 L1233.1,436.8 L1234.7,438.2 L1236.3,439.4 L1237.9,440.6 L1239.4,441.7 L1241.0,442.8 L1242.6,443.8 L1244.1,444.8 L1245.7,445.7 L1247.3,446.6 L1248.9,447.5 L1250.4,448.3 L1252.0,449.1 L1253.6,449.9 L1255.2,450.6 L1256.7,451.4 L1258.3,452.1 L1259.9,452.8 L1261.4,453.5 L1263.0,454.2 L1264.6,454.8 L1266.2,455.5 L1267.7,456.2 L1269.3,456.8 L1270.9,457.4 L1272.5,458.1 L1274.0,458.7 L1275.6,459.3 L1277.2,459.9 L1278.8,460.4 L1280.3,461.0 L1281.9,461.5 L1283.5,462.1 L1285.0,462.6 L1286.6,463.1 L1288.2,463.6 L1289.8,464.1 L1291.3,464.6 L1292.9,465.0 L1294.5,465.5 L1296.1,465.9 L1297.6,466.3 L1299.2,466.7 L1300.8,467.2 L1302.3,467.6 L1303.9,467.9 L1305.5,468.3 L1307.1,468.7 L1308.6,469.1 L1310.2,469.4 L1311.8,469.8 L1313.4,470.1 L1314.9,470.4 L1316.5,470.8 L1318.1,471.1 L1319.6,471.4 L1321.2,471.7 L1322.8,472.1 L1324.4,472.4 L1325.9,472.7 L1327.5,473.0 L1329.1,473.3 L1330.7,473.6 L1332.2,473.8 L1333.8,474.1 L1335.4,474.4 L1337.0,474.7 L1338.5,474.9 L1340.1,475.2 L1341.7,475.5 L1343.2,475.7 L1344.8,476.0 L1346.4,476.2 L1348.0,476.5 L1349.5,476.7 L1351.1,477.0 L1352.7,477.2 L1354.3,477.5 L1355.8,477.7 L1357.4,478.0 L1359.0,478.2 L1360.5,478.5 L1362.1,478.7 L1363.7,479.0 L1365.3,479.2 L1366.8,479.5 L1368.4,479.8 L1370.0,480.0 L1371.6,480.2 L1373.1,480.4 L1374.7,480.6 L1376.3,480.8 L1377.9,481.0 L1379.4,481.1 L1381.0,481.2 L1382.6,481.2 L1384.1,481.2 L1385.7,481.1 L1387.3,480.9 L1388.9,480.7 L1390.4,480.5 L1392.0,480.1 L1393.6,479.7 L1395.2,479.3 L1396.7,478.7 L1398.3,478.2 L1399.9,477.6 L1401.4,476.9 L1403.0,476.2 L1404.6,475.5 L1406.2,474.8 L1407.7,474.1 L1409.3,473.5 L1410.9,472.9 L1412.5,472.5 L1414.0,472.1 L1415.6,472.0 L1417.2,472.0 L1418.7,472.1 L1420.3,472.4 L1421.9,472.8 L1423.5,473.3 L1425.0,473.8 L1426.6,474.5 L1428.2,475.2 L1429.8,476.0 L1431.3,476.9 L1432.9,477.8 L1434.5,478.8 L1436.1,479.8 L1437.6,480.9 L1439.2,482.0 L1440.8,483.2 L1442.3,484.4 L1443.9,485.7 L1445.5,486.9 L1447.1,488.2 L1448.6,489.4 L1450.2,490.6 L1451.8,491.8 L1453.4,493.0 L1454.9,494.0 L1456.5,495.0 L1458.1,496.0 L1459.6,496.9 L1461.2,497.7 L1462.8,498.5 L1464.4,499.2 L1465.9,499.9 L1467.5,500.5 L1469.1,501.1 L1470.7,501.7 L1472.2,502.3 L1473.8,502.8 L1475.4,503.3 L1476.9,503.8 L1478.5,504.3 L1480.1,504.8 L1481.7,505.2 L1483.2,505.7 L1484.8,506.1 L1486.4,506.6 L1488.0,507.0 L1489.5,507.4 L1491.1,507.9 L1492.7,508.3 L1494.3,508.8 L1495.8,509.2 L1497.4,509.6 L1499.0,510.1 L1500.5,510.5 L1502.1,510.9 L1503.7,511.3 L1505.3,511.7 L1506.8,512.1 L1508.4,512.5 L1510.0,512.8 L1511.6,513.1 L1513.1,513.4 L1514.7,513.6 L1516.3,513.9 L1517.8,514.0 L1519.4,514.2 L1521.0,514.3 L1522.6,514.4 L1524.1,514.5 L1525.7,514.5 L1527.3,514.6 L1528.9,514.6 L1530.4,514.7 L1532.0,514.7 L1533.6,514.8 L1535.2,514.8 L1536.7,514.8 L1538.3,514.9 L1539.9,514.9 L1541.4,514.9 L1543.0,514.9 L1544.6,515.0 L1546.2,515.0 L1547.7,515.0 L1549.3,515.0 L1550.9,515.1 L1552.5,515.1 L1554.0,515.1 L1555.6,515.1 L1557.2,515.1 L1558.7,515.2 L1560.3,515.2 L1561.9,515.2 L1563.5,515.2 L1565.0,515.2 L1566.6,515.2 L1568.2,515.2 L1569.8,515.2 L1571.3,515.2 L1572.9,515.3 L1574.5,515.3 L1576.0,515.3 L1577.6,515.3 L1579.2,515.3 L1580.8,515.3 L1582.3,515.2 L1583.9,515.2 L1585.5,515.2 L1587.1,515.2 L1588.6,515.2 L1590.2,515.2 L1591.8,515.1 L1593.4,515.1 L1594.9,515.0 L1596.5,515.0 L1598.1,515.0 L1599.6,514.9 L1601.2,514.9 L1602.8,514.8 L1604.4,514.7 L1605.9,514.7 L1607.5,514.6 L1609.1,514.5 L1610.7,514.4 L1612.2,514.3 L1613.8,514.1 L1615.4,514.0 L1616.9,513.8 L1618.5,513.6 L1620.1,513.4 L1621.7,513.1 L1623.2,512.9 L1624.8,512.6 L1626.4,512.3 L1628.0,512.0 L1629.5,511.7 L1631.1,511.3 L1632.7,511.0 L1634.2,510.7 L1635.8,510.4 L1637.4,510.0 L1639.0,509.7 L1640.5,509.4 L1642.1,509.1 L1643.7,508.8 L1645.3,508.5 L1646.8,508.1 L1648.4,507.8 L1650.0,507.5 L1651.6,507.2 L1653.1,506.9 L1654.7,506.6 L1656.3,506.2 L1657.8,505.9 L1659.4,505.5 L1661.0,505.2 L1662.6,504.8 L1664.1,504.4 L1665.7,503.9 L1667.3,503.5 L1668.9,503.0 L1670.4,502.5 L1672.0,501.9 L1673.6,501.3 L1675.1,500.7 L1676.7,500.0 L1678.3,499.3 L1679.9,498.6 L1681.4,497.8 L1683.0,497.0 L1684.6,496.2 L1686.2,495.3 L1687.7,494.4 L1689.3,493.5 L1690.9,492.6 L1692.5,491.6 L1694.0,490.5 L1695.6,489.5 L1697.2,488.3 L1698.7,487.1 L1700.3,485.8 L1701.9,484.5 L1703.5,483.1 L1705.0,481.6 L1706.6,480.1 L1708.2,478.4 L1709.8,476.7 L1711.3,474.9 L1712.9,473.0 L1714.5,470.9 L1716.0,468.8 L1717.6,466.6 L1719.2,464.2 L1720.8,461.7 L1722.3,459.1 L1723.9,456.4 L1725.5,453.6 L1727.1,450.6 L1728.6,447.5 L1730.2,444.3 L1731.8,441.0 L1733.3,437.6 L1734.9,434.1 L1736.5,430.4 L1738.1,426.6 L1739.6,422.7 L1741.2,418.7 L1742.8,414.6 L1744.4,410.5 L1745.9,406.3 L1747.5,402.0 L1749.1,397.8 L1750.7,393.5 L1752.2,389.3 L1753.8,385.0 L1755.4,380.8 L1756.9,376.5 L1758.5,372.3 L1760.1,368.0 L1761.7,363.8 L1763.2,359.5 L1764.8,355.2 L1766.4,351.0 L1768.0,346.7 L1769.5,342.4 L1771.1,338.1 L1772.7,333.9 L1774.2,329.6 L1775.8,325.3 L1777.4,321.0 L1779.0,316.8 L1780.5,312.5 L1782.1,308.3 L1783.7,304.1 L1785.3,299.9 L1786.8,295.8 L1788.4,291.7 L1790.0,287.6 L1791.5,283.5 L1793.1,279.4 L1794.7,275.4 L1796.3,271.5 L1797.8,267.6 L1799.4,263.8 L1801.0,260.0 L1802.6,256.3 L1804.1,252.7 L1805.7,249.2 L1807.3,245.7 L1808.9,242.3 L1810.4,238.9 L1812.0,235.7 L1813.6,232.6 L1815.1,229.6 L1816.7,226.8 L1818.3,224.2 L1819.9,221.7 L1821.4,219.4 L1823.0,217.3 L1824.6,215.3 L1826.2,213.5 L1827.7,211.9 L1829.3,210.3 L1830.9,209.0 L1832.4,207.7 L1834.0,206.7 L1835.6,205.8 L1837.2,205.1 L1838.7,204.6 L1840.3,204.3 L1841.9,204.1 L1843.5,204.2 L1845.0,204.4 L1846.6,204.7 L1848.2,205.2 L1849.8,205.8 L1851.3,206.5 L1852.9,207.3 L1854.5,208.2 L1856.0,209.3 L1857.6,210.5 L1859.2,211.8 L1860.8,213.4 L1862.3,215.1 L1863.9,217.1 L1865.5,219.3 L1867.1,221.6 L1868.6,224.1 L1870.2,226.8 L1871.8,229.5 L1873.3,232.4 L1874.9,235.4 L1876.5,238.5 L1878.1,241.7 L1879.6,245.0 L1881.2,248.4 L1882.8,251.9 L1884.4,255.4 L1885.9,259.0 L1887.5,262.7 L1889.1,266.3 L1890.6,270.0 L1892.2,273.7 L1893.8,277.4 L1895.4,281.1 L1896.9,284.7 L1898.5,288.4 L1900.1,292.0 L1901.7,295.7 L1903.2,299.3 L1904.8,302.9 L1906.4,306.6 L1908.0,310.3 L1909.5,314.1 L1911.1,317.8 L1912.7,321.7 L1914.2,325.5 L1915.8,329.4 L1917.4,333.4 L1919.0,337.3 L1920.5,341.2 L1922.1,345.2 L1923.7,349.1 L1925.3,352.9 L1926.8,356.7 L1928.4,360.3 L1930.0,363.9 L1931.5,367.5 L1933.1,370.9 L1934.7,374.2 L1936.3,377.5 L1937.8,380.7 L1939.4,383.9 L1941.0,387.0 L1942.6,390.1 L1944.1,393.1 L1945.7,396.1 L1947.3,399.0 L1948.8,401.8 L1950.4,404.4 L1952.0,406.8 L1953.6,408.9 L1955.1,410.8 L1956.7,416.6 L1958.3,419.4 L1958.6,420.0" fill="none" stroke="#86C94A" stroke-width="4.2" stroke-linejoin="round"/>
<text transform="translate(992.72,47.30) scale(1.0000,1)" font-family="'Liberation Sans', sans-serif" font-weight="bold" font-size="63.70" text-anchor="start" fill="#000" >(b)</text>
<text transform="translate(1118.56,538.80) scale(0.8800,1)" font-family="'Liberation Sans', sans-serif" font-weight="bold" font-size="34.50" text-anchor="start" fill="#000" >0</text>
<text transform="translate(1092.76,457.35) scale(0.8800,1)" font-family="'Liberation Sans', sans-serif" font-weight="bold" font-size="34.50" text-anchor="start" fill="#000" >0.5</text>
<text transform="translate(1118.11,375.90) scale(0.8800,1)" font-family="'Liberation Sans', sans-serif" font-weight="bold" font-size="34.50" text-anchor="start" fill="#000" >1</text>
<text transform="translate(1092.76,294.45) scale(0.8800,1)" font-family="'Liberation Sans', sans-serif" font-weight="bold" font-size="34.50" text-anchor="start" fill="#000" >1.5</text>
<text transform="translate(1118.56,213.00) scale(0.8800,1)" font-family="'Liberation Sans', sans-serif" font-weight="bold" font-size="34.50" text-anchor="start" fill="#000" >2</text>
<text transform="translate(1092.76,131.55) scale(0.8800,1)" font-family="'Liberation Sans', sans-serif" font-weight="bold" font-size="34.50" text-anchor="start" fill="#000" >2.5</text>
<text transform="translate(1118.41,50.10) scale(0.8800,1)" font-family="'Liberation Sans', sans-serif" font-weight="bold" font-size="34.50" text-anchor="start" fill="#000" >3</text>
<text transform="translate(1136.66,579.00) scale(0.8900,1)" font-family="'Liberation Sans', sans-serif" font-weight="bold" font-size="35.00" text-anchor="start" fill="#000" >190</text>
<text transform="translate(1294.50,579.00) scale(0.8900,1)" font-family="'Liberation Sans', sans-serif" font-weight="bold" font-size="35.00" text-anchor="start" fill="#000" >390</text>
<text transform="translate(1451.72,579.00) scale(0.8900,1)" font-family="'Liberation Sans', sans-serif" font-weight="bold" font-size="35.00" text-anchor="start" fill="#000" >590</text>
<text transform="translate(1608.87,579.00) scale(0.8900,1)" font-family="'Liberation Sans', sans-serif" font-weight="bold" font-size="35.00" text-anchor="start" fill="#000" >790</text>
<text transform="translate(1766.25,579.00) scale(0.8900,1)" font-family="'Liberation Sans', sans-serif" font-weight="bold" font-size="35.00" text-anchor="start" fill="#000" >990</text>
<text transform="translate(1915.29,579.00) scale(0.8900,1)" font-family="'Liberation Sans', sans-serif" font-weight="bold" font-size="35.00" text-anchor="start" fill="#000" >1190</text>
<text transform="translate(1435.40,624.60) scale(0.9020,1)" font-family="'Liberation Sans', sans-serif" font-weight="bold" font-size="35.00" text-anchor="start" fill="#000" >Wavelength (nm)</text>
<text transform="translate(1081.60,284.10) scale(0.9300,1) rotate(-90)" font-family="'Liberation Sans', sans-serif" font-weight="bold" font-size="35.00" text-anchor="middle" fill="#000">Absorbance (a.u)</text>
<line x1="1474.1" y1="57.9" x2="1510.5" y2="57.9" stroke="#4472C4" stroke-width="4.8" stroke-dasharray="10.8 4.2"/>
<line x1="1474.1" y1="93.1" x2="1510.5" y2="93.1" stroke="#86C94A" stroke-width="4.8"/>
<text transform="translate(1512.80,68.30) scale(0.9100,1)" font-family="'Liberation Sans', sans-serif" font-weight="bold" font-size="35.00" text-anchor="start" fill="#000" >AuNRs</text>
<text transform="translate(1512.80,104.30) scale(0.9100,1)" font-family="'Liberation Sans', sans-serif" font-weight="bold" font-size="35.00" text-anchor="start" fill="#000" >AuNRs/GQDs</text>
</g>
<g id="pc">
<line x1="125.8" y1="711.0500000000001" x2="125.8" y2="1224.8" stroke="#000" stroke-width="6.3"/>
<line x1="114.8" y1="1224.8" x2="979.15" y2="1224.8" stroke="#000" stroke-width="6.3"/>
<line x1="114.8" y1="714.2" x2="125.8" y2="714.2" stroke="#000" stroke-width="6.3"/>
<line x1="114.8" y1="799.3" x2="125.8" y2="799.3" stroke="#000" stroke-width="6.3"/>
<line x1="114.8" y1="884.4" x2="125.8" y2="884.4" stroke="#000" stroke-width="6.3"/>
<line x1="114.8" y1="969.5" x2="125.8" y2="969.5" stroke="#000" stroke-width="6.3"/>
<line x1="114.8" y1="1054.6" x2="125.8" y2="1054.6" stroke="#000" stroke-width="6.3"/>
<line x1="114.8" y1="1139.7" x2="125.8" y2="1139.7" stroke="#000" stroke-width="6.3"/>
<line x1="114.8" y1="1224.8" x2="125.8" y2="1224.8" stroke="#000" stroke-width="6.3"/>
<line x1="266.8" y1="1224.8" x2="266.8" y2="1237.3" stroke="#000" stroke-width="6.3"/>
<line x1="444.5" y1="1224.8" x2="444.5" y2="1237.3" stroke="#000" stroke-width="6.3"/>
<line x1="621.6" y1="1224.8" x2="621.6" y2="1237.3" stroke="#000" stroke-width="6.3"/>
<line x1="799.3" y1="1224.8" x2="799.3" y2="1237.3" stroke="#000" stroke-width="6.3"/>
<line x1="976.0" y1="1224.8" x2="976.0" y2="1237.3" stroke="#000" stroke-width="6.3"/>
<path d="M125.8,723.7 C136.7,723.7 175.9,723.3 191.4,723.7 C206.9,724.2 209.6,725.6 218.7,726.5 C227.8,727.4 236.9,729.0 246.0,729.2 C255.1,729.4 264.3,728.5 273.4,727.8 C282.5,727.2 291.6,725.8 300.7,725.1 C309.8,724.4 320.3,723.3 328.0,723.7 C335.8,724.2 343.1,725.6 347.2,727.8 C351.3,730.1 351.3,733.5 352.7,737.4 C354.0,741.3 354.0,750.6 355.4,751.1 C356.8,751.5 359.0,740.1 360.9,740.1 C362.7,740.1 364.5,742.9 366.3,751.1 C368.1,759.3 370.0,773.9 371.8,789.3 C373.6,804.8 375.7,821.2 377.3,844.0 C378.9,866.8 380.4,907.8 381.4,926.0 C382.3,944.3 382.0,962.5 382.7,953.4 C383.4,944.3 384.3,893.7 385.5,871.4 C386.6,849.0 388.2,829.4 389.6,819.4 C390.9,809.4 392.5,802.6 393.7,811.2 C394.8,819.9 395.7,823.5 396.4,871.4 C397.1,919.2 397.1,1093.7 397.8,1098.3 C398.4,1102.8 399.4,954.7 400.5,898.7 C401.6,842.7 403.0,788.0 404.6,762.0 C406.2,736.0 406.9,747.4 410.1,742.9 C413.2,738.3 419.2,737.2 423.7,734.7 C428.3,732.2 424.7,729.4 437.4,727.8 C450.1,726.2 463.7,726.1 499.9,725.1 C536.1,724.1 627.7,722.3 654.5,722.1 C681.2,721.8 652.0,723.1 660.5,723.6 C669.0,724.1 696.6,724.4 705.6,725.1 C714.6,725.9 712.4,713.1 714.6,728.1 C716.9,743.1 717.9,785.7 719.1,815.3 C720.4,844.9 721.1,885.0 722.1,905.5 C723.1,926.1 724.1,951.1 725.1,938.6 C726.1,926.1 727.2,858.4 728.2,830.4 C729.2,802.3 729.9,776.2 731.2,770.2 C732.4,764.2 734.4,796.8 735.7,794.3 C736.9,791.8 737.4,761.7 738.7,755.2 C739.9,748.7 741.2,757.7 743.2,755.2 C745.2,752.7 746.9,744.7 750.7,740.1 C754.5,735.6 755.7,729.9 765.7,728.1 C775.8,726.4 800.8,727.6 810.8,729.6 C820.9,731.6 821.4,735.9 825.9,740.1 C830.4,744.4 835.4,727.1 837.9,755.2 C840.4,783.2 839.9,901.0 840.9,908.5 C841.9,916.1 842.4,825.8 843.9,800.3 C845.4,774.7 848.2,736.1 849.9,755.2 C851.7,774.2 852.9,912.0 854.5,914.6 C856.0,917.1 856.2,799.3 859.0,770.2 C861.7,741.1 866.5,746.7 871.0,740.1 C875.5,733.6 882.0,731.1 886.0,731.1 C890.0,731.1 892.5,711.6 895.0,740.1 C897.6,768.7 899.3,902.5 901.1,902.5 C902.8,902.5 900.6,769.2 905.6,740.1 C910.6,711.1 921.9,729.9 931.1,728.1 C940.4,726.4 955.7,726.1 961.2,729.6 C966.7,733.1 963.7,745.9 964.2,749.2" fill="none" stroke="#8C8C8C" stroke-width="3.8" stroke-dasharray="3.2 3.2"/>
<path d="M125.8,729.2 C132.1,728.8 153.1,727.3 164.0,726.5 C175.0,725.7 184.5,724.7 191.4,724.3 C198.2,723.8 200.5,723.1 205.0,723.7 C209.6,724.3 211.9,724.7 218.7,727.8 C225.5,731.0 238.7,738.3 246.0,742.9 C253.3,747.4 257.4,752.4 262.4,755.2 C267.5,757.9 271.6,759.1 276.1,759.3 C280.7,759.5 283.4,758.4 289.8,756.5 C296.2,754.7 305.7,750.6 314.4,748.3 C323.0,746.1 335.8,743.3 341.7,742.9 C347.6,742.4 347.6,742.9 349.9,745.6 C352.2,748.3 353.6,758.8 355.4,759.3 C357.2,759.7 359.0,749.3 360.9,748.3 C362.7,747.4 364.5,747.0 366.3,753.8 C368.1,760.6 370.0,765.2 371.8,789.3 C373.6,813.5 375.7,839.9 377.3,898.7 C378.9,957.5 380.0,1137.4 381.4,1142.0 C382.7,1146.6 384.1,981.2 385.5,926.0 C386.8,870.9 388.4,831.3 389.6,811.2 C390.7,791.2 391.4,800.3 392.3,805.8 C393.2,811.2 394.3,807.1 395.0,844.0 C395.8,880.9 396.2,1022.6 396.9,1027.2 C397.7,1031.7 398.6,916.5 399.7,871.4 C400.7,826.3 401.5,778.4 403.2,756.5 C405.0,734.7 404.4,744.5 410.1,740.1 C415.8,735.8 428.3,733.1 437.4,730.6 C446.5,728.1 454.3,726.5 464.7,725.1 C475.2,723.7 484.3,723.5 499.9,722.1 C515.5,720.7 532.5,716.7 558.3,716.7 C584.0,716.7 637.4,719.2 654.5,722.1 C671.5,725.0 658.7,728.9 660.5,734.1 C662.2,739.4 663.0,754.4 665.0,753.7 C667.0,752.9 668.8,734.6 672.5,729.6 C676.3,724.6 682.0,725.1 687.6,723.6 C693.1,722.1 701.1,719.3 705.6,720.6 C710.1,721.8 712.4,722.9 714.6,731.1 C716.9,739.4 717.9,757.9 719.1,770.2 C720.4,782.5 721.1,803.3 722.1,804.8 C723.1,806.3 724.1,790.0 725.1,779.2 C726.1,768.5 726.7,747.7 728.2,740.1 C729.7,732.6 732.4,733.4 734.2,734.1 C735.9,734.9 736.4,744.9 738.7,744.7 C740.9,744.4 744.2,735.4 747.7,732.6 C751.2,729.9 756.2,728.1 759.7,728.1 C763.2,728.1 766.5,724.1 768.7,732.6 C771.0,741.1 771.8,779.2 773.3,779.2 C774.8,779.2 774.0,740.6 777.8,732.6 C781.5,724.6 791.3,729.9 795.8,731.1 C800.3,732.4 801.8,733.1 804.8,740.1 C807.8,747.2 810.8,768.7 813.9,773.2 C816.9,777.7 819.4,767.7 822.9,767.2 C826.4,766.7 831.9,776.0 834.9,770.2 C837.9,764.4 839.4,731.6 840.9,732.6 C842.4,733.6 842.7,776.5 843.9,776.2 C845.2,776.0 846.4,734.9 848.4,731.1 C850.4,727.4 853.7,753.7 856.0,753.7 C858.2,753.7 858.7,735.4 862.0,731.1 C865.2,726.9 872.2,719.8 875.5,728.1 C878.8,736.4 879.5,780.5 881.5,780.7 C883.5,781.0 885.3,738.4 887.5,729.6 C889.8,720.8 892.8,723.4 895.0,728.1 C897.3,732.9 899.1,758.2 901.1,758.2 C903.1,758.2 897.1,733.9 907.1,728.1 C917.1,722.3 952.2,724.4 961.2,723.6" fill="none" stroke="#4472C4" stroke-width="3.8" stroke-linejoin="round"/>
<path d="M125.8,715.5 C136.7,715.4 179.1,714.3 191.4,715.0 C203.7,715.7 196.8,716.4 199.6,719.6 C202.3,722.9 204.6,726.2 207.8,734.7 C211.0,743.1 214.6,754.3 218.7,770.2 C222.8,786.2 227.8,810.8 232.4,830.4 C236.9,849.9 241.5,871.8 246.0,887.8 C250.6,903.7 255.1,916.7 259.7,926.0 C264.3,935.4 269.3,942.0 273.4,943.8 C277.5,945.6 279.8,940.8 284.3,937.0 C288.9,933.1 295.7,926.9 300.7,920.6 C305.7,914.2 309.8,907.4 314.4,898.7 C318.9,890.0 323.5,879.6 328.0,868.6 C332.6,857.7 337.2,844.9 341.7,833.1 C346.3,821.2 350.8,808.0 355.4,797.6 C359.9,787.1 364.5,775.9 369.1,770.2 C373.6,764.5 379.1,767.0 382.7,763.4 C386.4,759.7 388.6,751.8 390.9,748.3 C393.2,744.9 394.6,744.5 396.4,742.9 C398.2,741.3 398.7,740.8 401.9,738.8 C405.0,736.7 409.6,733.1 415.5,730.6 C421.5,728.1 429.2,725.3 437.4,723.7 C445.6,722.1 454.3,721.8 464.7,721.0 C475.2,720.2 491.3,719.8 499.9,719.1 C508.5,718.4 506.4,716.9 516.2,716.7 C525.9,716.4 544.2,717.8 558.3,717.6 C572.3,717.4 588.3,715.6 600.4,715.5 C612.4,715.3 622.4,716.2 630.4,716.7 C638.4,717.2 644.5,716.6 648.5,718.5 C652.5,720.4 652.5,721.5 654.5,728.1 C656.5,734.7 658.7,741.1 660.5,758.2 C662.2,775.2 663.5,798.3 665.0,830.4 C666.5,862.4 668.0,910.5 669.5,950.6 C671.0,990.7 672.3,1039.3 674.0,1070.9 C675.8,1102.5 678.0,1135.1 680.0,1140.1 C682.0,1145.1 684.1,1127.6 686.1,1101.0 C688.1,1074.4 689.8,1013.3 692.1,980.7 C694.3,948.1 697.3,925.6 699.6,905.5 C701.8,885.5 703.6,869.9 705.6,860.4 C707.6,850.9 710.1,846.4 711.6,848.4 C713.1,850.4 713.6,853.4 714.6,872.5 C715.6,891.5 716.6,959.7 717.6,962.7 C718.6,965.7 719.9,895.0 720.6,890.5 C721.4,886.0 721.4,908.0 722.1,935.6 C722.9,963.2 724.1,1044.4 725.1,1055.9 C726.1,1067.4 727.2,1007.3 728.2,1004.8 C729.2,1002.3 730.2,1025.1 731.2,1040.8 C732.2,1056.6 733.2,1099.5 734.2,1099.5 C735.2,1099.5 735.9,1069.2 737.2,1040.8 C738.4,1012.5 740.2,940.1 741.7,929.6 C743.2,919.1 744.4,980.2 746.2,977.7 C748.0,975.2 750.5,919.1 752.2,914.6 C754.0,910.0 755.5,938.1 756.7,950.6 C758.0,963.2 758.7,987.2 759.7,989.7 C760.7,992.2 761.5,945.6 762.7,965.7 C764.0,985.7 765.7,1092.5 767.2,1110.0 C768.7,1127.6 770.3,1087.5 771.8,1070.9 C773.3,1054.4 774.8,1021.8 776.3,1010.8 C777.8,999.8 779.5,1009.8 780.8,1004.8 C782.0,999.8 782.5,981.7 783.8,980.7 C785.0,979.7 786.8,1007.8 788.3,998.7 C789.8,989.7 791.6,932.1 792.8,926.6 C794.1,921.1 794.6,967.7 795.8,965.7 C797.1,963.7 798.3,927.1 800.3,914.6 C802.3,902.0 805.8,891.0 807.8,890.5 C809.8,890.0 810.8,906.5 812.4,911.5 C813.9,916.6 814.9,921.1 816.9,920.6 C818.9,920.1 822.4,908.5 824.4,908.5 C826.4,908.5 827.6,921.1 828.9,920.6 C830.1,920.1 830.4,911.5 831.9,905.5 C833.4,899.5 836.4,892.0 837.9,884.5 C839.4,877.0 839.7,866.9 840.9,860.4 C842.2,853.9 843.9,844.4 845.4,845.4 C846.9,846.4 848.7,863.9 849.9,866.4 C851.2,868.9 851.7,863.4 852.9,860.4 C854.2,857.4 856.0,847.4 857.5,848.4 C859.0,849.4 860.7,865.4 862.0,866.4 C863.2,867.4 863.7,850.4 865.0,854.4 C866.2,858.4 868.5,879.5 869.5,890.5 C870.5,901.5 870.0,919.6 871.0,920.6 C872.0,921.6 874.0,904.0 875.5,896.5 C877.0,889.0 878.5,876.5 880.0,875.5 C881.5,874.5 883.0,885.5 884.5,890.5 C886.0,895.5 887.5,896.5 889.0,905.5 C890.5,914.6 892.0,932.1 893.5,944.6 C895.0,957.2 896.5,976.7 898.1,980.7 C899.6,984.7 901.1,967.7 902.6,968.7 C904.1,969.7 905.3,979.7 907.1,986.7 C908.8,993.7 911.3,1000.8 913.1,1010.8 C914.8,1020.8 916.1,1044.4 917.6,1046.9 C919.1,1049.4 920.6,1030.3 922.1,1025.8 C923.6,1021.3 925.1,1017.3 926.6,1019.8 C928.1,1022.3 929.9,1035.3 931.1,1040.8 C932.4,1046.4 932.9,1054.9 934.1,1052.9 C935.4,1050.9 937.1,1034.8 938.6,1028.8 C940.2,1022.8 941.4,1018.3 943.2,1016.8 C944.9,1015.3 947.2,1020.8 949.2,1019.8 C951.2,1018.8 953.7,1010.3 955.2,1010.8 C956.7,1011.3 957.2,1029.3 958.2,1022.8 C959.2,1016.3 960.2,976.2 961.2,971.7 C962.2,967.2 963.5,993.2 964.2,995.7 C965.0,998.2 965.5,988.2 965.7,986.7" fill="none" stroke="#ED7D31" stroke-width="3.8" stroke-linejoin="round"/>
<path d="M125.8,741.4 L127.0,741.2 L128.2,738.6 L129.4,738.5 L130.6,740.5 L131.8,740.0 L133.0,739.7 L134.3,738.5 L135.5,739.2 L136.7,739.1 L137.9,738.9 L139.2,737.7 L140.4,738.4 L141.7,738.2 L142.9,739.1 L144.1,739.8 L145.4,739.6 L146.6,738.4 L147.9,738.1 L149.1,737.5 L150.4,736.8 L151.6,736.7 L152.8,737.9 L154.1,737.4 L155.3,737.5 L156.6,738.9 L157.8,737.8 L159.1,737.8 L160.3,736.9 L161.5,736.2 L162.8,737.0 L164.0,736.4 L165.3,737.3 L166.5,738.6 L167.8,737.5 L169.0,736.0 L170.2,737.9 L171.5,737.5 L172.7,737.2 L174.0,737.6 L175.2,737.0 L176.5,737.0 L177.7,735.6 L178.9,737.3 L180.2,737.1 L181.4,734.7 L182.7,736.3 L183.9,736.0 L185.1,735.2 L186.4,735.3 L187.6,735.0 L188.9,736.1 L190.1,734.8 L191.4,735.6 L192.6,734.4 L193.8,736.1 L195.0,736.2 L196.2,735.2 L197.4,735.6 L198.7,736.8 L199.9,736.4 L201.1,735.9 L202.3,735.3 L203.7,737.1 L205.0,739.8 L206.4,739.9 L207.8,743.6 L209.1,743.4 L210.5,746.8 L211.9,747.8 L213.2,752.4 L214.6,754.4 L216.0,756.6 L217.3,759.3 L218.7,762.4 L219.9,764.2 L221.2,765.5 L222.4,767.2 L223.7,770.0 L224.9,773.2 L226.2,774.3 L227.4,774.7 L228.6,778.8 L229.9,780.5 L231.1,783.0 L232.4,783.0 L233.6,786.1 L234.9,785.6 L236.1,788.8 L237.3,789.2 L238.6,790.6 L239.8,793.9 L241.1,793.2 L242.3,795.9 L243.6,798.3 L244.8,798.1 L246.0,799.5 L247.3,802.2 L248.6,801.8 L249.8,803.5 L251.1,802.5 L252.4,804.3 L253.7,804.6 L254.9,806.9 L256.2,806.1 L257.5,809.5 L258.7,807.7 L260.0,810.6 L261.3,809.5 L262.5,811.0 L263.8,813.5 L265.2,811.0 L266.5,810.5 L267.9,811.4 L269.3,809.9 L270.6,808.4 L272.0,810.4 L273.4,807.5 L274.6,806.4 L275.9,806.6 L277.1,806.6 L278.3,806.2 L279.6,803.7 L280.8,803.6 L282.1,802.0 L283.3,802.4 L284.6,802.5 L285.8,801.7 L287.0,801.4 L288.3,800.0 L289.5,799.3 L290.8,797.9 L292.0,796.2 L293.3,794.5 L294.5,794.8 L295.7,792.8 L297.0,791.2 L298.2,791.2 L299.5,791.4 L300.7,788.3 L302.0,788.6 L303.2,787.1 L304.4,786.4 L305.7,784.4 L306.9,785.7 L308.2,782.7 L309.4,782.7 L310.7,781.2 L311.9,779.1 L313.1,779.6 L314.4,777.4 L315.6,776.2 L316.9,775.1 L318.1,774.5 L319.3,773.3 L320.6,773.8 L321.8,772.5 L323.1,772.8 L324.3,771.7 L325.6,770.9 L326.8,767.7 L328.0,767.3 L329.3,766.2 L330.5,766.5 L331.8,766.0 L333.0,765.8 L334.3,765.0 L335.5,763.1 L336.7,762.9 L338.0,762.6 L339.2,760.5 L340.5,760.0 L341.7,760.4 L342.9,759.3 L344.1,760.7 L345.4,759.0 L346.6,758.3 L347.8,758.2 L349.0,758.1 L350.2,757.7 L351.4,758.3 L352.7,757.8 L354.0,758.1 L355.4,759.7 L356.8,759.2 L358.1,761.8 L359.5,762.6 L360.9,762.7 L362.2,765.9 L363.6,770.2 L365.0,774.5 L366.3,777.2 L367.7,782.3 L369.1,786.7 L370.4,791.9 L371.8,797.8 L373.2,805.9 L374.5,810.8 L375.9,821.4 L377.3,832.6 L378.6,841.9 L380.0,851.1 L381.4,863.1 L382.7,848.2 L384.1,834.0 L385.5,822.7 L386.7,816.7 L387.9,812.9 L389.1,810.0 L390.3,805.1 L391.5,798.9 L392.7,804.9 L393.9,809.6 L395.2,814.6 L396.4,818.6 L397.8,809.6 L399.1,798.2 L400.5,788.7 L401.9,779.9 L403.2,772.3 L404.6,760.8 L406.0,762.0 L407.3,759.8 L408.7,760.2 L410.1,759.0 L411.3,758.9 L412.5,759.5 L413.8,758.2 L415.0,757.2 L416.3,757.0 L417.5,756.6 L418.8,758.5 L420.0,757.7 L421.2,758.3 L422.5,757.3 L423.7,755.2 L425.0,756.9 L426.2,757.1 L427.5,756.8 L428.7,756.0 L429.9,755.5 L431.2,755.7 L432.4,756.5 L433.7,754.9 L434.9,755.5 L436.2,755.2 L437.4,756.5 L438.6,755.7 L439.9,755.8 L441.1,755.2 L442.4,753.4 L443.6,752.9 L444.9,753.3 L446.1,752.3 L447.3,752.5 L448.6,752.9 L449.8,753.2 L451.1,752.0 L452.3,752.3 L453.6,750.0 L454.8,750.4 L456.0,751.9 L457.3,749.2 L458.5,749.7 L459.8,748.4 L461.0,748.1 L462.2,750.1 L463.5,750.0 L464.7,748.8 L465.9,747.2 L467.2,747.6 L468.4,747.4 L469.6,748.5 L470.8,748.5 L472.0,747.7 L473.2,747.9 L474.4,746.7 L475.7,747.8 L476.9,748.8 L478.1,748.2 L479.3,746.3 L480.5,747.4 L481.7,747.9 L482.9,746.5 L484.1,748.2 L485.4,747.0 L486.6,747.6 L487.8,746.6 L489.0,748.2 L490.2,747.6 L491.4,746.9 L492.6,745.6 L493.9,746.4 L495.1,745.1 L496.3,746.6 L497.5,747.4 L498.7,745.3 L499.9,746.2 L501.2,745.2 L502.5,744.0 L503.8,743.9 L505.0,743.6 L506.3,742.0 L507.6,740.4 L508.9,740.9 L510.1,738.2 L511.3,741.0 L512.5,742.4 L513.7,744.3 L515.0,746.2 L516.2,746.1 L517.4,748.9 L518.6,749.9 L519.8,752.3 L521.0,760.2 L522.2,757.1 L523.4,747.5 L524.6,753.1 L525.8,755.7 L527.0,757.3 L528.2,753.3 L529.4,754.8 L530.6,742.8 L531.8,755.0 L533.0,751.2 L534.2,748.6 L535.4,752.0 L536.6,750.9 L537.8,739.2 L539.0,748.4 L540.2,746.9 L541.5,738.8 L542.7,746.2 L543.9,743.8 L545.2,738.1 L546.4,746.5 L547.6,737.0 L548.9,743.5 L550.1,740.8 L551.4,738.1 L552.6,742.3 L553.8,740.7 L555.1,736.9 L556.3,747.4 L557.5,734.7 L558.8,733.5 L560.0,740.1 L561.3,744.9 L562.5,742.7 L563.8,744.5 L565.0,741.1 L566.3,744.1 L567.5,739.7 L568.8,739.1 L570.0,742.8 L571.3,736.5 L572.5,737.6 L573.8,747.5 L575.0,739.7 L576.3,748.2 L577.5,748.3 L578.7,742.7 L579.9,746.2 L581.1,747.5 L582.3,748.2 L583.5,737.7 L584.7,737.8 L585.9,740.6 L587.1,741.5 L588.3,738.8 L589.5,734.5 L590.7,741.8 L591.9,747.3 L593.1,738.6 L594.3,740.7 L595.5,738.8 L596.7,739.9 L597.9,746.2 L599.2,738.7 L600.4,743.7 L601.6,741.7 L602.8,742.8 L604.0,748.4 L605.2,736.9 L606.4,747.7 L607.6,740.7 L608.8,745.8 L610.0,748.2 L611.2,746.5 L612.4,743.2 L613.6,749.6 L614.8,739.4 L616.0,747.1 L617.2,743.9 L618.4,746.1 L619.6,750.8 L620.8,750.2 L622.0,748.1 L623.2,743.8 L624.4,742.9 L625.6,746.3 L626.8,743.3 L628.0,745.9 L629.2,750.2 L630.4,745.3 L631.7,749.9 L632.9,747.7 L634.2,748.0 L635.4,748.1 L636.7,747.0 L637.9,749.7 L639.2,748.3 L640.4,750.3 L641.7,749.8 L643.0,753.8 L644.2,754.3 L645.5,752.0 L646.7,753.3 L648.0,754.9 L649.2,753.9 L650.5,754.1 L651.7,755.2 L653.0,755.8 L654.2,757.9 L655.5,757.8 L656.7,758.5 L658.0,760.5 L659.2,759.7 L660.5,762.1 L661.7,765.2 L662.9,768.1 L664.1,772.9 L665.3,775.2 L666.5,780.3 L667.7,808.7 L668.9,835.8 L670.1,864.6 L671.3,893.6 L672.5,921.2 L674.0,971.4 L675.5,1021.8 L677.0,1072.1 L678.5,1097.9 L680.0,1124.9 L681.5,1095.4 L683.0,1068.8 L684.6,1041.3 L685.8,1004.4 L687.0,968.4 L688.2,931.7 L689.4,897.8 L690.6,860.0 L691.9,854.3 L693.1,849.5 L694.4,841.5 L695.7,837.7 L697.0,829.3 L698.3,823.0 L699.6,817.9 L700.8,815.5 L702.0,814.7 L703.2,812.2 L704.4,809.4 L705.6,806.1 L706.8,804.9 L708.0,802.6 L709.2,802.7 L710.4,800.0 L711.6,798.2 L713.1,801.7 L714.6,802.8 L716.1,805.8 L717.6,825.5 L719.1,835.2 L720.6,847.4 L722.1,874.6 L723.6,867.2 L725.1,860.2 L726.7,865.7 L728.2,879.0 L729.7,891.8 L731.2,904.8 L732.7,922.4 L734.2,938.1 L735.7,914.2 L737.2,891.2 L738.7,860.7 L740.2,832.4 L741.7,837.3 L743.2,839.2 L744.7,843.2 L746.2,838.3 L747.7,836.4 L749.2,834.3 L750.7,829.9 L752.2,828.1 L753.7,824.6 L755.2,821.0 L756.7,827.2 L758.2,830.1 L759.7,842.3 L761.2,851.7 L762.7,859.9 L764.2,895.4 L765.7,928.9 L767.2,962.9 L768.7,941.7 L770.3,921.9 L771.8,906.9 L773.3,891.4 L774.8,875.3 L776.3,880.2 L777.8,885.6 L779.3,889.2 L780.8,896.9 L782.3,906.9 L783.8,899.5 L785.3,896.7 L786.8,891.0 L788.3,885.6 L789.8,877.3 L791.3,871.9 L792.8,879.3 L794.3,883.1 L795.8,889.4 L797.3,902.1 L798.8,913.6 L800.3,905.5 L801.8,899.0 L803.3,889.4 L804.8,887.3 L806.3,881.9 L807.8,882.2 L809.3,886.6 L810.8,886.8 L812.1,888.6 L813.3,890.1 L814.5,890.1 L815.7,892.3 L816.9,892.3 L818.2,891.4 L819.4,892.1 L820.7,890.5 L822.0,888.4 L823.3,887.6 L824.6,886.8 L825.9,883.5 L827.2,882.3 L828.5,879.2 L829.7,877.0 L831.0,874.8 L832.3,872.9 L833.6,870.3 L834.9,868.6 L836.1,870.3 L837.3,872.2 L838.5,874.1 L839.7,875.4 L840.9,876.1 L842.2,876.8 L843.5,879.2 L844.8,878.4 L846.1,879.5 L847.4,882.8 L848.7,883.5 L849.9,883.7 L851.2,884.6 L852.5,884.8 L853.8,885.6 L855.1,886.0 L856.4,886.3 L857.7,887.9 L859.0,888.4 L860.2,889.5 L861.4,891.0 L862.6,892.3 L863.8,895.4 L865.0,897.9 L866.2,897.6 L867.4,900.7 L868.6,902.5 L869.8,904.2 L871.0,904.2 L872.2,907.5 L873.4,908.3 L874.6,910.1 L875.8,913.0 L877.0,915.0 L878.2,914.9 L879.4,915.2 L880.6,915.1 L881.8,914.5 L883.0,913.3 L884.2,917.7 L885.4,920.3 L886.6,922.7 L887.8,924.4 L889.0,925.3 L890.2,930.5 L891.4,935.1 L892.6,941.4 L893.8,945.9 L895.0,949.8 L896.2,953.1 L897.5,954.4 L898.7,955.4 L899.9,955.3 L901.1,955.4 L902.3,957.3 L903.5,963.4 L904.7,965.1 L905.9,964.9 L907.1,971.1 L908.3,970.3 L909.5,970.6 L910.7,971.8 L911.9,974.8 L913.1,974.4 L914.3,976.9 L915.5,974.8 L916.7,979.5 L917.9,978.1 L919.1,983.2 L920.3,982.0 L921.5,985.7 L922.7,990.0 L923.9,992.1 L925.1,995.9 L926.3,995.3 L927.5,987.9 L928.7,988.4 L929.9,984.9 L931.1,982.4 L932.3,986.4 L933.5,992.5 L934.7,997.8 L935.9,1004.6 L937.1,1009.3 L938.6,1008.9 L940.2,1010.6 L941.7,1008.9 L943.2,1020.6 L944.7,1031.3 L946.2,1039.7 L947.7,1053.9 L949.2,1071.5 L950.7,1088.1 L952.2,1101.3 L953.7,1120.7 L955.2,1138.0 L956.7,1121.3 L958.2,1102.1 L959.7,1111.9 L961.2,1123.3 L962.7,1115.0 L964.2,1099.8 L965.7,1116.0" fill="none" stroke="#70AD47" stroke-width="3.6" stroke-linejoin="round"/>
<ellipse cx="387.6" cy="947.2" rx="44.5" ry="224.8" fill="none" stroke="#000" stroke-width="3.4" stroke-dasharray="12 6"/>
<text transform="translate(0.81,751.00) scale(1.0000,1)" font-family="'Liberation Sans', sans-serif" font-weight="bold" font-size="63.70" text-anchor="start" fill="#000" >(c)</text>
<text transform="translate(83.20,999.20) scale(0.8700,1) rotate(-90)" font-family="'Liberation Sans', sans-serif" font-weight="bold" font-size="41.80" text-anchor="middle" fill="#000">Transmittance</text>
<text transform="translate(225.67,1289.30) scale(0.8800,1)" font-family="'Liberation Sans', sans-serif" font-weight="bold" font-size="42.30" text-anchor="start" fill="#000" >3400</text>
<text transform="translate(403.18,1289.30) scale(0.8800,1)" font-family="'Liberation Sans', sans-serif" font-weight="bold" font-size="42.30" text-anchor="start" fill="#000" >2650</text>
<text transform="translate(579.82,1289.30) scale(0.8800,1)" font-family="'Liberation Sans', sans-serif" font-weight="bold" font-size="42.30" text-anchor="start" fill="#000" >1900</text>
<text transform="translate(758.54,1289.30) scale(0.8800,1)" font-family="'Liberation Sans', sans-serif" font-weight="bold" font-size="42.30" text-anchor="start" fill="#000" >1150</text>
<text transform="translate(945.48,1289.30) scale(0.8800,1)" font-family="'Liberation Sans', sans-serif" font-weight="bold" font-size="42.30" text-anchor="start" fill="#000" >400</text>
<text transform="translate(380.00,1342.30) scale(0.8697,1)" font-family="'Liberation Sans', sans-serif" font-weight="bold" font-size="42.70" text-anchor="start" fill="#000" >Wavenumber (cm</text>
<text transform="translate(689.61,1329.00) scale(0.7211,1)" font-family="'Liberation Sans', sans-serif" font-weight="bold" font-size="27.40" text-anchor="start" fill="#000" >-1</text>
<text transform="translate(712.60,1342.30) scale(0.8700,1)" font-family="'Liberation Sans', sans-serif" font-weight="bold" font-size="42.70" text-anchor="start" fill="#000" >)</text>
<line x1="168.9" y1="1398.1" x2="203.3" y2="1398.1" stroke="#8C8C8C" stroke-width="3.6" stroke-dasharray="3.2 3.6"/>
<text transform="translate(208.67,1412.00) scale(0.9000,1)" font-family="'Liberation Sans', sans-serif" font-weight="bold" font-size="42.60" text-anchor="start" fill="#000" >CTAB</text>
<line x1="341.1" y1="1398.1" x2="377.5" y2="1398.1" stroke="#4472C4" stroke-width="3.6"/>
<text transform="translate(379.56,1412.00) scale(0.8800,1)" font-family="'Liberation Sans', sans-serif" font-weight="bold" font-size="42.60" text-anchor="start" fill="#000" >AuNRs</text>
<line x1="533" y1="1398.1" x2="568.6" y2="1398.1" stroke="#ED7D31" stroke-width="3.6"/>
<text transform="translate(571.50,1412.00) scale(0.8800,1)" font-family="'Liberation Sans', sans-serif" font-weight="bold" font-size="42.60" text-anchor="start" fill="#000" >GO</text>
<line x1="660" y1="1398.1" x2="694.4" y2="1398.1" stroke="#70AD47" stroke-width="3.6"/>
<text transform="translate(697.76,1412.00) scale(0.8800,1)" font-family="'Liberation Sans', sans-serif" font-weight="bold" font-size="42.60" text-anchor="start" fill="#000" >AuNRs/GO</text>
<text transform="translate(238.43,1049.40) scale(1.0000,1)" font-family="'Liberation Sans', sans-serif" font-weight="bold" font-size="31.80" text-anchor="start" fill="#000" >OH</text>
<line x1="264.6" y1="1019.0" x2="271.3" y2="969.3" stroke="#000" stroke-width="3.6"/><polygon points="273.4,953.4 278.6,971.2 263.7,969.3" fill="#000"/>
<text transform="translate(456.26,1182.00) scale(1.0000,1)" font-family="'Liberation Sans', sans-serif" font-weight="bold" font-size="31.00" text-anchor="start" fill="#000" >C-H</text>
<line x1="482.5" y1="1151.6" x2="438.5" y2="1089.5" stroke="#000" stroke-width="3.6"/><polygon points="429.2,1076.4 445.1,1085.9 432.9,1094.6" fill="#000"/>
<text transform="translate(549.46,789.80) scale(1.0000,1)" font-family="'Liberation Sans', sans-serif" font-weight="bold" font-size="31.00" text-anchor="start" fill="#000" >C=O</text>
<line x1="609.4" y1="758.0" x2="632.3" y2="748.0" stroke="#000" stroke-width="3.6"/><polygon points="647.0,741.6 634.4,755.3 628.4,741.5" fill="#000"/>
<text transform="translate(593.06,1188.00) scale(1.0000,1)" font-family="'Liberation Sans', sans-serif" font-weight="bold" font-size="31.00" text-anchor="start" fill="#000" >C=C</text>
<line x1="644.0" y1="1155.0" x2="662.2" y2="1147.6" stroke="#000" stroke-width="3.6"/><polygon points="677.0,1141.6 664.1,1154.9 658.4,1141.0" fill="#000"/>
<text transform="translate(741.96,1177.70) scale(1.0000,1)" font-family="'Liberation Sans', sans-serif" font-weight="bold" font-size="31.00" text-anchor="start" fill="#000" >C-O</text>
<line x1="747.7" y1="1155.0" x2="737.8" y2="1125.2" stroke="#000" stroke-width="3.6"/><polygon points="732.7,1110.0 745.2,1123.8 731.0,1128.5" fill="#000"/>
<text transform="translate(826.16,1120.50) scale(1.0000,1)" font-family="'Liberation Sans', sans-serif" font-weight="bold" font-size="31.00" text-anchor="start" fill="#000" >C-OH</text>
<line x1="824.4" y1="1107.0" x2="784.6" y2="1110.2" stroke="#000" stroke-width="3.6"/><polygon points="768.7,1111.5 785.0,1102.7 786.2,1117.6" fill="#000"/>
</g>
<g id="pd">
<line x1="1111.3" y1="710.35" x2="1111.3" y2="1228.2" stroke="#000" stroke-width="6.3"/>
<line x1="1101.0" y1="1228.2" x2="1965.45" y2="1228.2" stroke="#000" stroke-width="6.3"/>
<line x1="1101.0" y1="713.5" x2="1111.3" y2="713.5" stroke="#000" stroke-width="6.3"/>
<line x1="1101.0" y1="799.3" x2="1111.3" y2="799.3" stroke="#000" stroke-width="6.3"/>
<line x1="1101.0" y1="885.1" x2="1111.3" y2="885.1" stroke="#000" stroke-width="6.3"/>
<line x1="1101.0" y1="970.9" x2="1111.3" y2="970.9" stroke="#000" stroke-width="6.3"/>
<line x1="1101.0" y1="1056.7" x2="1111.3" y2="1056.7" stroke="#000" stroke-width="6.3"/>
<line x1="1101.0" y1="1142.5" x2="1111.3" y2="1142.5" stroke="#000" stroke-width="6.3"/>
<line x1="1101.0" y1="1228.3" x2="1111.3" y2="1228.3" stroke="#000" stroke-width="6.3"/>
<line x1="1254.2" y1="1228.2" x2="1254.2" y2="1240.7" stroke="#000" stroke-width="6.3"/>
<line x1="1432.0" y1="1228.2" x2="1432.0" y2="1240.7" stroke="#000" stroke-width="6.3"/>
<line x1="1608.5" y1="1228.2" x2="1608.5" y2="1240.7" stroke="#000" stroke-width="6.3"/>
<line x1="1786.2" y1="1228.2" x2="1786.2" y2="1240.7" stroke="#000" stroke-width="6.3"/>
<line x1="1962.3" y1="1228.2" x2="1962.3" y2="1240.7" stroke="#000" stroke-width="6.3"/>
<path d="M1112.7,726.0 C1126.2,725.8 1176.8,724.2 1193.6,724.6 C1210.3,725.1 1202.4,727.4 1213.1,728.8 C1223.8,730.2 1243.8,732.8 1257.7,733.0 C1271.7,733.2 1284.2,730.7 1296.7,730.2 C1309.3,729.7 1325.6,726.5 1333.0,730.2 C1340.4,733.9 1339.3,745.1 1341.4,752.5 C1343.5,759.9 1344.2,773.0 1345.5,774.8 C1346.9,776.7 1348.1,760.9 1349.7,763.7 C1351.4,766.4 1353.5,763.7 1355.3,791.5 C1357.2,819.4 1359.3,863.6 1360.9,931.0 C1362.5,998.4 1363.7,1195.9 1365.1,1195.9 C1366.5,1195.9 1367.6,989.1 1369.3,931.0 C1370.9,872.9 1373.4,863.1 1374.8,847.3 C1376.2,831.5 1376.7,822.2 1377.6,836.2 C1378.5,850.1 1379.2,878.5 1380.4,931.0 C1381.6,983.5 1383.2,1160.6 1384.6,1151.3 C1386.0,1142.0 1387.1,937.5 1388.8,875.2 C1390.4,812.9 1391.6,799.0 1394.4,777.6 C1397.1,756.2 1400.9,753.9 1405.5,746.9 C1410.2,740.0 1382.2,738.9 1422.2,735.8 C1462.2,732.6 1598.2,729.1 1645.5,728.1 C1692.7,727.1 1695.1,707.6 1705.6,729.6 C1716.1,751.7 1707.6,820.6 1708.6,860.4 C1709.6,900.3 1710.6,973.7 1711.6,968.7 C1712.6,963.7 1713.1,865.9 1714.6,830.4 C1716.1,794.8 1717.6,771.2 1720.6,755.2 C1723.6,739.1 1727.7,738.1 1732.7,734.1 C1737.7,730.1 1742.7,730.9 1750.7,731.1 C1758.7,731.4 1770.8,734.1 1780.8,735.6 C1790.8,737.1 1803.8,729.4 1810.8,740.1 C1817.9,750.9 1819.6,767.7 1822.9,800.3 C1826.1,832.9 1828.4,935.6 1830.4,935.6 C1832.4,935.6 1833.7,827.8 1834.9,800.3 C1836.2,772.7 1836.7,746.2 1837.9,770.2 C1839.2,794.3 1840.9,939.6 1842.4,944.6 C1843.9,949.6 1844.2,831.4 1846.9,800.3 C1849.7,769.2 1853.9,765.7 1859.0,758.2 C1864.0,750.7 1873.0,748.2 1877.0,755.2 C1881.0,762.2 1881.3,771.7 1883.0,800.3 C1884.8,828.8 1886.0,926.6 1887.5,926.6 C1889.0,926.6 1889.8,831.9 1892.0,800.3 C1894.3,768.7 1891.3,749.2 1901.1,737.1 C1910.8,725.1 1942.4,725.6 1950.7,728.1 C1958.9,730.6 1950.7,748.2 1950.7,752.2" fill="none" stroke="#8C8C8C" stroke-width="3.8" stroke-dasharray="3.2 3.2"/>
<path d="M1112.7,724.1 C1124.8,723.9 1168.5,722.7 1185.2,723.2 C1201.9,723.8 1203.8,724.6 1213.1,727.4 C1222.4,730.2 1233.3,737.2 1241.0,740.0 C1248.6,742.7 1249.8,744.8 1259.1,744.1 C1268.4,743.4 1284.0,737.9 1296.7,735.8 C1309.5,733.7 1327.0,730.7 1335.8,731.6 C1344.6,732.5 1346.0,736.0 1349.7,741.3 C1353.5,746.7 1355.8,746.0 1358.1,763.7 C1360.4,781.3 1362.0,812.2 1363.7,847.3 C1365.3,882.4 1366.5,974.2 1367.9,974.2 C1369.3,974.2 1370.4,881.5 1372.0,847.3 C1373.7,813.2 1376.2,773.9 1377.6,769.2 C1379.0,764.6 1379.5,797.1 1380.4,819.4 C1381.3,841.7 1382.3,907.7 1383.2,903.1 C1384.1,898.4 1384.6,819.0 1386.0,791.5 C1387.4,764.1 1387.8,748.8 1391.6,738.6 C1395.3,728.3 1368.5,733.4 1408.3,730.2 C1448.1,727.0 1590.9,718.9 1630.4,719.1 C1670.0,719.2 1642.0,727.6 1645.5,731.1 C1649.0,734.6 1649.5,741.1 1651.5,740.1 C1653.5,739.1 1653.5,727.9 1657.5,725.1 C1661.5,722.3 1668.5,724.1 1675.5,723.6 C1682.5,723.1 1694.6,719.3 1699.6,722.1 C1704.6,724.9 1704.1,732.1 1705.6,740.1 C1707.1,748.2 1707.1,770.5 1708.6,770.2 C1710.1,770.0 1712.6,745.4 1714.6,738.6 C1716.6,731.9 1718.6,730.4 1720.6,729.6 C1722.6,728.9 1724.1,734.6 1726.7,734.1 C1729.2,733.6 1730.7,728.1 1735.7,726.6 C1740.7,725.1 1752.7,721.1 1756.7,725.1 C1760.7,729.1 1758.2,749.9 1759.7,750.7 C1761.2,751.4 1761.2,732.4 1765.7,729.6 C1770.3,726.9 1781.8,730.6 1786.8,734.1 C1791.8,737.6 1791.8,748.4 1795.8,750.7 C1799.8,752.9 1807.1,751.4 1810.8,747.7 C1814.6,743.9 1815.9,731.1 1818.4,728.1 C1820.9,725.1 1823.9,725.4 1825.9,729.6 C1827.9,733.9 1828.4,753.7 1830.4,753.7 C1832.4,753.7 1835.7,731.9 1837.9,729.6 C1840.2,727.4 1841.9,740.4 1843.9,740.1 C1845.9,739.9 1845.9,725.6 1849.9,728.1 C1853.9,730.6 1863.5,755.2 1868.0,755.2 C1872.5,755.2 1873.5,730.1 1877.0,728.1 C1880.5,726.1 1886.0,743.4 1889.0,743.1 C1892.0,742.9 1884.8,730.1 1895.0,726.6 C1905.3,723.1 1941.4,722.9 1950.7,722.1" fill="none" stroke="#4472C4" stroke-width="3.8" stroke-linejoin="round"/>
<path d="M1112.7,714.9 C1124.3,714.9 1169.4,714.2 1182.4,714.9 C1195.4,715.6 1185.7,713.2 1190.8,719.0 C1195.9,724.9 1204.7,737.6 1213.1,749.7 C1221.5,761.8 1233.3,782.7 1241.0,791.5 C1248.6,800.4 1251.7,802.7 1259.1,802.7 C1266.5,802.7 1277.0,796.7 1285.6,791.5 C1294.2,786.4 1301.9,779.0 1310.7,772.0 C1319.5,765.1 1330.2,756.0 1338.6,749.7 C1346.9,743.4 1353.9,738.6 1360.9,734.4 C1367.9,730.2 1374.8,726.9 1380.4,724.6 C1386.0,722.3 1385.1,721.6 1394.4,720.4 C1403.6,719.3 1406.9,718.4 1436.2,717.6 C1465.5,716.9 1537.9,716.2 1570.3,716.1 C1602.7,715.9 1617.9,715.7 1630.4,716.7 C1643.0,717.7 1640.9,718.2 1645.5,722.1 C1650.0,726.0 1654.0,733.6 1657.5,740.1 C1661.0,746.7 1663.0,751.2 1666.5,761.2 C1670.0,771.2 1675.0,781.2 1678.5,800.3 C1682.0,819.3 1684.6,878.0 1687.6,875.5 C1690.6,873.0 1693.6,807.3 1696.6,785.2 C1699.6,763.2 1703.3,750.4 1705.6,743.1 C1707.9,735.9 1708.6,740.1 1710.1,741.6 C1711.6,743.1 1712.4,744.9 1714.6,752.2 C1716.9,759.4 1720.9,772.2 1723.6,785.2 C1726.4,798.3 1728.7,835.4 1731.2,830.4 C1733.7,825.3 1736.2,770.0 1738.7,755.2 C1741.2,740.4 1743.9,740.1 1746.2,741.6 C1748.5,743.1 1749.5,765.5 1752.2,764.2 C1755.0,762.9 1758.0,740.1 1762.7,734.1 C1767.5,728.1 1770.3,729.9 1780.8,728.1 C1791.3,726.4 1814.4,721.8 1825.9,723.6 C1837.4,725.4 1840.9,733.4 1849.9,738.6 C1859.0,743.9 1871.5,749.9 1880.0,755.2 C1888.5,760.4 1895.5,766.7 1901.1,770.2 C1906.6,773.7 1908.1,775.7 1913.1,776.2 C1918.1,776.7 1926.1,774.7 1931.1,773.2 C1936.1,771.7 1939.9,769.5 1943.2,767.2 C1946.4,764.9 1949.4,760.9 1950.7,759.7" fill="none" stroke="#ED7D31" stroke-width="3.8" stroke-linejoin="round"/>
<path d="M1112.7,721.8 C1124.8,721.7 1168.5,719.9 1185.2,721.3 C1201.9,722.7 1203.8,725.9 1213.1,730.2 C1222.4,734.5 1233.5,743.4 1241.0,746.9 C1248.4,750.4 1248.4,751.3 1257.7,751.1 C1267.0,750.9 1284.2,747.9 1296.7,745.5 C1309.3,743.2 1324.2,739.0 1333.0,737.2 C1341.8,735.3 1345.5,733.7 1349.7,734.4 C1353.9,735.1 1355.8,736.5 1358.1,741.3 C1360.4,746.2 1362.0,755.1 1363.7,763.7 C1365.3,772.3 1366.5,795.3 1367.9,792.9 C1369.3,790.6 1370.9,759.7 1372.0,749.7 C1373.2,739.7 1373.7,735.3 1374.8,733.0 C1376.0,730.7 1377.6,729.7 1379.0,735.8 C1380.4,741.8 1381.8,769.2 1383.2,769.2 C1384.6,769.2 1386.0,742.5 1387.4,735.8 C1388.8,729.0 1389.5,730.7 1391.6,728.8 C1393.7,726.9 1360.1,726.0 1399.9,724.6 C1439.7,723.3 1588.0,719.8 1630.4,720.6 C1672.8,721.4 1648.5,724.9 1654.5,729.6 C1660.5,734.4 1662.5,737.4 1666.5,749.2 C1670.5,760.9 1675.0,776.7 1678.5,800.3 C1682.0,823.8 1685.1,885.5 1687.6,890.5 C1690.1,895.5 1691.6,852.4 1693.6,830.4 C1695.6,808.3 1697.6,772.2 1699.6,758.2 C1701.6,744.2 1703.1,747.2 1705.6,746.2 C1708.1,745.2 1711.6,745.7 1714.6,752.2 C1717.6,758.7 1720.9,771.7 1723.6,785.2 C1726.4,798.8 1728.7,836.9 1731.2,833.4 C1733.7,829.9 1736.2,779.0 1738.7,764.2 C1741.2,749.4 1743.9,746.2 1746.2,744.7 C1748.5,743.1 1749.5,756.4 1752.2,755.2 C1755.0,753.9 1758.0,740.9 1762.7,737.1 C1767.5,733.4 1770.3,733.9 1780.8,732.6 C1791.3,731.4 1815.9,729.6 1825.9,729.6 C1835.9,729.6 1833.4,731.4 1840.9,732.6 C1848.4,733.9 1863.0,736.4 1871.0,737.1 C1879.0,737.9 1883.0,735.6 1889.0,737.1 C1895.0,738.6 1900.1,745.7 1907.1,746.2 C1914.1,746.7 1923.9,742.4 1931.1,740.1 C1938.4,737.9 1947.4,733.9 1950.7,732.6" fill="none" stroke="#86C94A" stroke-width="4.0" stroke-linejoin="round"/>
<ellipse cx="1381.8" cy="967.9" rx="50.2" ry="246.6" fill="none" stroke="#000" stroke-width="3.4" stroke-dasharray="12 6"/>
<text transform="translate(992.42,752.00) scale(1.0000,1)" font-family="'Liberation Sans', sans-serif" font-weight="bold" font-size="63.70" text-anchor="start" fill="#000" >(d)</text>
<text transform="translate(1069.00,1000.00) scale(0.8700,1) rotate(-90)" font-family="'Liberation Sans', sans-serif" font-weight="bold" font-size="41.80" text-anchor="middle" fill="#000">Transmittance</text>
<text transform="translate(1213.07,1292.00) scale(0.8800,1)" font-family="'Liberation Sans', sans-serif" font-weight="bold" font-size="42.30" text-anchor="start" fill="#000" >3400</text>
<text transform="translate(1390.68,1292.00) scale(0.8800,1)" font-family="'Liberation Sans', sans-serif" font-weight="bold" font-size="42.30" text-anchor="start" fill="#000" >2650</text>
<text transform="translate(1566.72,1292.00) scale(0.8800,1)" font-family="'Liberation Sans', sans-serif" font-weight="bold" font-size="42.30" text-anchor="start" fill="#000" >1900</text>
<text transform="translate(1745.44,1292.00) scale(0.8800,1)" font-family="'Liberation Sans', sans-serif" font-weight="bold" font-size="42.30" text-anchor="start" fill="#000" >1150</text>
<text transform="translate(1931.78,1292.00) scale(0.8800,1)" font-family="'Liberation Sans', sans-serif" font-weight="bold" font-size="42.30" text-anchor="start" fill="#000" >400</text>
<text transform="translate(1366.30,1345.70) scale(0.8697,1)" font-family="'Liberation Sans', sans-serif" font-weight="bold" font-size="42.70" text-anchor="start" fill="#000" >Wavenumber (cm</text>
<text transform="translate(1675.91,1332.40) scale(0.7211,1)" font-family="'Liberation Sans', sans-serif" font-weight="bold" font-size="27.40" text-anchor="start" fill="#000" >-1</text>
<text transform="translate(1698.90,1345.70) scale(0.8700,1)" font-family="'Liberation Sans', sans-serif" font-weight="bold" font-size="42.70" text-anchor="start" fill="#000" >)</text>
<line x1="1106.6" y1="1402" x2="1141" y2="1402" stroke="#8C8C8C" stroke-width="3.6" stroke-dasharray="3.2 3.6"/>
<text transform="translate(1144.97,1416.30) scale(0.9000,1)" font-family="'Liberation Sans', sans-serif" font-weight="bold" font-size="42.60" text-anchor="start" fill="#000" >CTAB</text>
<line x1="1278.8" y1="1402" x2="1315.5" y2="1402" stroke="#4472C4" stroke-width="3.6"/>
<text transform="translate(1317.86,1416.30) scale(0.8800,1)" font-family="'Liberation Sans', sans-serif" font-weight="bold" font-size="42.60" text-anchor="start" fill="#000" >AuNRs</text>
<line x1="1473" y1="1402" x2="1508.5" y2="1402" stroke="#ED7D31" stroke-width="3.6"/>
<text transform="translate(1510.80,1416.30) scale(0.8800,1)" font-family="'Liberation Sans', sans-serif" font-weight="bold" font-size="42.60" text-anchor="start" fill="#000" >GQDs</text>
<line x1="1648" y1="1402" x2="1683.4" y2="1402" stroke="#86C94A" stroke-width="3.6"/>
<text transform="translate(1686.36,1416.30) scale(0.8800,1)" font-family="'Liberation Sans', sans-serif" font-weight="bold" font-size="42.60" text-anchor="start" fill="#000" >AuNRs/GQDs</text>
<text transform="translate(1231.33,914.20) scale(1.0000,1)" font-family="'Liberation Sans', sans-serif" font-weight="bold" font-size="31.80" text-anchor="start" fill="#000" >OH</text>
<line x1="1257.1" y1="883.6" x2="1257.1" y2="832.6" stroke="#000" stroke-width="3.6"/><polygon points="1257.1,816.6 1264.6,833.6 1249.6,833.6" fill="#000"/>
<text transform="translate(1436.16,1208.50) scale(1.0000,1)" font-family="'Liberation Sans', sans-serif" font-weight="bold" font-size="31.00" text-anchor="start" fill="#000" >C-H</text>
<line x1="1462.7" y1="1175.0" x2="1442.1" y2="1125.6" stroke="#000" stroke-width="3.6"/><polygon points="1436.0,1110.8 1449.5,1123.6 1435.6,1129.4" fill="#000"/>
<text transform="translate(1562.46,803.30) scale(1.0000,1)" font-family="'Liberation Sans', sans-serif" font-weight="bold" font-size="31.00" text-anchor="start" fill="#000" >C=O</text>
<line x1="1621.4" y1="771.7" x2="1645.8" y2="761.4" stroke="#000" stroke-width="3.6"/><polygon points="1660.5,755.2 1647.8,768.7 1641.9,754.9" fill="#000"/>
<text transform="translate(1583.46,956.70) scale(1.0000,1)" font-family="'Liberation Sans', sans-serif" font-weight="bold" font-size="31.00" text-anchor="start" fill="#000" >C=C</text>
<line x1="1615.4" y1="923.6" x2="1668.8" y2="896.3" stroke="#000" stroke-width="3.6"/><polygon points="1683.0,889.0 1671.3,903.4 1664.4,890.1" fill="#000"/>
<text transform="translate(1749.46,1081.40) scale(1.0000,1)" font-family="'Liberation Sans', sans-serif" font-weight="bold" font-size="31.00" text-anchor="start" fill="#000" >C-O</text>
<line x1="1770.2" y1="1052.9" x2="1734.1" y2="855.1" stroke="#000" stroke-width="3.6"/><polygon points="1731.2,839.4 1741.6,854.8 1726.9,857.5" fill="#000"/>
<text transform="translate(1814.16,1007.80) scale(1.0000,1)" font-family="'Liberation Sans', sans-serif" font-weight="bold" font-size="31.00" text-anchor="start" fill="#000" >C-OH</text>
<line x1="1816.9" y1="986.7" x2="1759.7" y2="793.0" stroke="#000" stroke-width="3.6"/><polygon points="1755.2,777.7 1767.2,791.9 1752.8,796.1" fill="#000"/>
</g>
<g id="pe0"><g clip-path="url(#ce)"><g filter="url(#nz3)"><rect x="3" y="1452" width="1008" height="749" fill="#c3c3c3"/><g filter="url(#b3)"><path d="M688,1452 L765,1452 L782,1536 L796.5,1632 L820.6,1705 L823,1753 L806,1777 L770,1795 L735,1790 L722,1750 L714.7,1680.6 L690.7,1608.4 L695.5,1543.4 Z" fill="#d1d1d1"/><path d="M770,1452 L1011,1452 L1011,1560 Q960,1520 900,1500 Q840,1470 800,1452 Z" fill="#bfbfbf"/><path d="M740,1990 Q790,1995 820,2000 Q840,2080 850,2201 L770,2201 Q760,2100 740,1990 Z" fill="#c6c6c6"/></g><g filter="url(#b1)"><path d="M3,1975 L91.5,1975 L135.6,2027.8 L159.3,2075.3 L155.9,2112.5 L145.8,2163.4 L128.8,2201.4 L3,2201.4 Z" fill="#c8c8c8"/><path d="M91.5,1975 L111.9,1975 L152.5,2044.7 L189.8,2112.5 L149.2,2146.4 L145.8,2163.4 L155.9,2112.5 L159.3,2075.3 L135.6,2027.8 Z" fill="#b8b8b8"/><path d="M111.9,1975 L332.2,1975 L389.8,2010.8 L396.6,2054.9 L423.7,2061.7 L430.5,2105.8 L437.3,2119.3 L427.1,2149.8 L450.8,2177 L467.8,2201.4 L440.7,2201.4 L372.9,2166.8 L305.1,2136.3 L189.8,2112.5 L152.5,2044.7 Z" fill="#969696"/><path d="M189.8,2114.2 L305.1,2138 L372.9,2168.5 L423.7,2201.4 L145.8,2201.4 L149.2,2146.4 Z" fill="#c6c6c6"/><path d="M288.1,2163.4 L322,2160 L372.9,2177 L389.8,2201.4 L281.4,2201.4 Z" fill="#d6d6d6"/></g><g filter="url(#b6)"><path d="M250,1985 L330,1985 L380,2020 L390,2060 L360,2100 L300,2090 L265,2050 Z" fill="#8a8a8a"/><ellipse cx="340" cy="2090" rx="25" ry="15" fill="#acacac"/><ellipse cx="280" cy="2075" rx="8" ry="14" fill="#6e6e6e"/><ellipse cx="278" cy="2062" rx="5" ry="6" fill="#d7d7d7"/></g><path d="M624,1450 Q660,1476 682,1505 Q693,1540 690,1570 Q686,1600 680,1628" fill="none" stroke="#9e9e9e" stroke-width="17" filter="url(#b1)"/><path d="M767,1452 L783,1536 L797,1632 L821,1705 L823,1753 L806,1777" fill="none" stroke="#d6d6d6" stroke-width="4" filter="url(#b1)"/><path d="M688,1455 L695,1543 L691,1608 L715,1681 L729,1753" fill="none" stroke="#d6d6d6" stroke-width="4" filter="url(#b1)"/><path d="M840,1610 Q900,1650 960,1700 Q1000,1740 1011,1760" fill="none" stroke="#b0b0b0" stroke-width="3" filter="url(#b1)"/><g filter="url(#b1)" fill="none"><path d="M779,1961 Q810,1955 832,1963 Q850,2000 847,2040 Q840,2120 818,2201" stroke="#d8d8d8" stroke-width="3.2"/><path d="M782,1964 Q812,1958 829,1966" stroke="#787878" stroke-width="1.5"/><path d="M650,1760 Q668,1820 690,1880 Q720,1950 760,1985" stroke="#d6d6d6" stroke-width="3"/><path d="M652,1763 Q670,1823 692,1883" stroke="#969696" stroke-width="1.2"/><path d="M600,1990 Q630,2060 640,2110 Q650,2160 630,2201" stroke="#d4d4d4" stroke-width="3"/><path d="M940,1900 Q980,1950 1000,2030 Q1010,2100 1011,2150" stroke="#b4b4b4" stroke-width="2"/><path d="M620,1460 Q640,1520 660,1560" stroke="#d6d6d6" stroke-width="2.5"/></g><g filter="url(#b6)" opacity="0.95"><ellipse cx="655" cy="1700" rx="28" ry="40" fill="#e6e6e6"/><ellipse cx="830" cy="1840" rx="32" ry="35" fill="#e6e6e6"/><ellipse cx="942" cy="1728" rx="10" ry="14" fill="#e6e6e6"/><ellipse cx="870" cy="1545" rx="25" ry="35" fill="#e6e6e6"/><ellipse cx="718" cy="1740" rx="18" ry="24" fill="#e6e6e6"/><ellipse cx="840" cy="1525" rx="14" ry="14" fill="#e6e6e6"/></g><g filter="url(#b1)"><line x1="820.6" y1="1500.0" x2="844.6" y2="1529.0" stroke="#373737" stroke-width="11" stroke-linecap="round" opacity="1.0"/><line x1="837.0" y1="1525.0" x2="860.0" y2="1542.0" stroke="#1e1e1e" stroke-width="13" stroke-linecap="round" opacity="1.0"/><ellipse cx="875.9" cy="1550.7" rx="15" ry="21" fill="#0f0f0f" transform="rotate(-15 875.9 1550.7)"/><line x1="851.8" y1="1562.7" x2="897.5" y2="1634.9" stroke="#1e1e1e" stroke-width="13" stroke-linecap="round" opacity="1.0"/><line x1="878.3" y1="1584.0" x2="892.7" y2="1598.8" stroke="#6e6e6e" stroke-width="10" stroke-linecap="round" opacity="1.0"/><line x1="890.3" y1="1646.9" x2="909.6" y2="1666.1" stroke="#4b4b4b" stroke-width="12" stroke-linecap="round" opacity="1.0"/><line x1="951.7" y1="1719.0" x2="974.5" y2="1779.2" stroke="#282828" stroke-width="10" stroke-linecap="round" opacity="1.0"/><ellipse cx="664.2" cy="1675.7" rx="14.4" ry="19" fill="#0f0f0f" transform="rotate(-10 664.2 1675.7)"/><ellipse cx="652.2" cy="1709.4" rx="13" ry="15" fill="#141414" transform="rotate(0 652.2 1709.4)"/><line x1="635.3" y1="1723.9" x2="669.0" y2="1752.7" stroke="#505050" stroke-width="10" stroke-linecap="round" opacity="1.0"/><line x1="683.4" y1="1622.8" x2="678.6" y2="1651.7" stroke="#5a5a5a" stroke-width="9" stroke-linecap="round" opacity="1.0"/><line x1="673.8" y1="1692.6" x2="675.0" y2="1743.0" stroke="#464646" stroke-width="9" stroke-linecap="round" opacity="1.0"/><line x1="697.9" y1="1685.4" x2="707.5" y2="1711.8" stroke="#6e6e6e" stroke-width="9" stroke-linecap="round" opacity="1.0"/><ellipse cx="714.7" cy="1735.9" rx="15" ry="19" fill="#0f0f0f" transform="rotate(0 714.7 1735.9)"/><line x1="721.9" y1="1757.5" x2="736.4" y2="1798.4" stroke="#373737" stroke-width="10" stroke-linecap="round" opacity="1.0"/><line x1="736.4" y1="1798.4" x2="752.6" y2="1842.0" stroke="#282828" stroke-width="10" stroke-linecap="round" opacity="1.0"/><line x1="796.0" y1="1815.6" x2="838.0" y2="1773.8" stroke="#282828" stroke-width="12" stroke-linecap="round" opacity="1.0"/><line x1="807.6" y1="1827.0" x2="849.4" y2="1785.0" stroke="#2d2d2d" stroke-width="12" stroke-linecap="round" opacity="1.0"/><line x1="794.3" y1="1836.4" x2="853.0" y2="1882.0" stroke="#1e1e1e" stroke-width="13" stroke-linecap="round" opacity="1.0"/><line x1="811.4" y1="1832.6" x2="860.7" y2="1870.7" stroke="#323232" stroke-width="12" stroke-linecap="round" opacity="1.0"/></g></g><text transform="translate(723.57,1648.70) scale(1.0000,1)" font-family="'Liberation Sans', sans-serif" font-weight="bold" font-size="35.80" text-anchor="start" fill="#000" >GO</text><line x1="764.0" y1="1652.4" x2="795.8" y2="1746.3" stroke="#000" stroke-width="6"/><polygon points="803.8,1770.0 784.1,1749.2 806.8,1741.5" fill="#000"/><text transform="translate(774.27,2006.70) scale(1.0000,1)" font-family="'Liberation Sans', sans-serif" font-weight="bold" font-size="37.40" text-anchor="start" fill="#000" >AuNRs</text><line x1="853.0" y1="1954.0" x2="775.1" y2="1873.0" stroke="#000" stroke-width="7"/><polygon points="756.4,1853.5 785.2,1864.7 766.4,1882.7" fill="#000"/><line x1="853.0" y1="1954.0" x2="845.5" y2="1899.2" stroke="#000" stroke-width="7"/><polygon points="841.8,1872.5 858.5,1898.5 832.7,1902.0" fill="#000"/><rect x="41.8" y="2153.4" width="143.4" height="5.6" fill="#000"/><text transform="translate(42.35,2133.90) scale(1.0860,1)" font-family="'Liberation Sans', sans-serif" font-weight="normal" font-size="41.40" text-anchor="start" fill="#000" >200 nm</text></g></g>
<g id="pe"><g clip-path="url(#cei)"><g filter="url(#nz2)"><rect x="8" y="1455" width="579" height="518" fill="#b4b4b4"/><g filter="url(#b25)"><line x1="150" y1="1430" x2="560" y2="1860" stroke="#d6d6d6" stroke-width="80"/><line x1="300" y1="1440" x2="640" y2="1790" stroke="#bebebe" stroke-width="120"/><ellipse cx="480" cy="1945" rx="50" ry="35" fill="#cdcdcd"/><line x1="-60" y1="1660" x2="330" y2="2010" stroke="#acacac" stroke-width="80"/></g><g filter="url(#b6)"><line x1="-120" y1="1400" x2="387.6" y2="1893.7" stroke="#505050" stroke-width="140" stroke-linecap="round"/></g><g filter="url(#b10)"><line x1="-120" y1="1400" x2="382" y2="1888" stroke="url(#rodg)" stroke-width="104" stroke-linecap="round"/></g></g><text transform="translate(14.66,1538.20) scale(1.0600,1)" font-family="'Liberation Sans', sans-serif" font-weight="bold" font-size="63.00" text-anchor="start" fill="#fff" >(e)</text><rect x="47.8" y="1924" width="205.7" height="4.8" fill="#000"/><text transform="translate(48.57,1915.10) scale(0.9221,1)" font-family="'Liberation Sans', sans-serif" font-weight="normal" font-size="41.90" text-anchor="start" fill="#000" >20</text><text transform="translate(114.76,1915.10) scale(0.7501,1)" font-family="'Liberation Sans', sans-serif" font-weight="normal" font-size="41.90" text-anchor="start" fill="#000" >nm</text></g><rect x="8.8" y="1457" width="577.1" height="514.9" fill="none" stroke="#000" stroke-width="6.2"/></g>
<g id="pf"><g clip-path="url(#cf)"><g filter="url(#nz4)"><rect x="1021" y="1452.5" width="975" height="746.5" fill="#d6d6d6"/><g filter="url(#b16)"><path d="M1021,1560 Q1100,1620 1160,1700 Q1220,1790 1300,1880 Q1360,1960 1420,2010 L1421,2199 L1021,2199 Z" fill="#cecece"/><ellipse cx="1390" cy="1830" rx="30" ry="22" fill="#c3c3c3"/></g><path d="M1040,1555 Q1120,1640 1180,1720 Q1240,1800 1290,1850" fill="none" stroke="#bebebe" stroke-width="3" filter="url(#b3)"/><path d="M1270,1950 Q1320,2000 1340,2080 Q1350,2150 1360,2199" fill="none" stroke="#c3c3c3" stroke-width="4" filter="url(#b6)"/><g filter="url(#b10)" opacity="0.85"><ellipse cx="1155" cy="1630" rx="45" ry="45" fill="#e8e8e8"/><ellipse cx="1240" cy="1625" rx="50" ry="30" fill="#e8e8e8"/><ellipse cx="1365" cy="1580" rx="25" ry="60" fill="#e8e8e8"/><ellipse cx="1440" cy="1690" rx="45" ry="30" fill="#e8e8e8"/><ellipse cx="1075" cy="1795" rx="50" ry="25" fill="#e8e8e8"/><ellipse cx="1230" cy="1800" rx="50" ry="50" fill="#e8e8e8"/><ellipse cx="1360" cy="1835" rx="50" ry="20" fill="#e8e8e8"/><ellipse cx="1415" cy="1925" rx="25" ry="35" fill="#e8e8e8"/><ellipse cx="1600" cy="2030" rx="30" ry="40" fill="#e8e8e8"/><ellipse cx="1720" cy="2050" rx="60" ry="60" fill="#e8e8e8"/><ellipse cx="1840" cy="2090" rx="80" ry="40" fill="#e8e8e8"/><ellipse cx="1410" cy="2100" rx="50" ry="40" fill="#e8e8e8"/></g><ellipse cx="1941" cy="2057" rx="30" ry="32" fill="#a0a0a0" filter="url(#b3)"/><g filter="url(#b1)"><line x1="1093.3" y1="1606.7" x2="1126.7" y2="1645.6" stroke="#5a5a5a" stroke-width="7" stroke-linecap="round" opacity="1.0"/><line x1="1126.7" y1="1633.0" x2="1183.6" y2="1648.3" stroke="#1e1e1e" stroke-width="12.5" stroke-linecap="round" opacity="1.0"/><line x1="1200.3" y1="1603.9" x2="1246.1" y2="1638.6" stroke="#464646" stroke-width="11" stroke-linecap="round" opacity="1.0"/><line x1="1222.5" y1="1606.7" x2="1269.7" y2="1640.0" stroke="#232323" stroke-width="12.5" stroke-linecap="round" opacity="1.0"/><line x1="1293.3" y1="1655.3" x2="1351.7" y2="1644.2" stroke="#232323" stroke-width="13" stroke-linecap="round" opacity="1.0"/><line x1="1354.4" y1="1545.6" x2="1358.6" y2="1620.6" stroke="#3c3c3c" stroke-width="11" stroke-linecap="round" opacity="1.0"/><line x1="1366.9" y1="1542.8" x2="1373.9" y2="1606.7" stroke="#2d2d2d" stroke-width="12.5" stroke-linecap="round" opacity="1.0"/><line x1="1346.1" y1="1567.8" x2="1354.4" y2="1620.6" stroke="#323232" stroke-width="11" stroke-linecap="round" opacity="1.0"/><line x1="1407.2" y1="1666.4" x2="1454.4" y2="1695.6" stroke="#373737" stroke-width="12.5" stroke-linecap="round" opacity="1.0"/><line x1="1439.2" y1="1710.8" x2="1479.4" y2="1695.6" stroke="#282828" stroke-width="11" stroke-linecap="round" opacity="1.0"/><line x1="1035.0" y1="1778.9" x2="1107.2" y2="1787.2" stroke="#3c3c3c" stroke-width="11" stroke-linecap="round" opacity="1.0"/><line x1="1051.7" y1="1794.2" x2="1108.6" y2="1808.0" stroke="#232323" stroke-width="11" stroke-linecap="round" opacity="1.0"/><line x1="1175.3" y1="1777.5" x2="1222.5" y2="1827.5" stroke="#282828" stroke-width="12.5" stroke-linecap="round" opacity="1.0"/><line x1="1179.4" y1="1773.3" x2="1232.2" y2="1808.0" stroke="#3c3c3c" stroke-width="11" stroke-linecap="round" opacity="1.0"/><line x1="1223.9" y1="1770.6" x2="1266.9" y2="1728.9" stroke="#1e1e1e" stroke-width="12.5" stroke-linecap="round" opacity="1.0"/><line x1="1232.2" y1="1780.3" x2="1273.9" y2="1740.0" stroke="#505050" stroke-width="12" stroke-linecap="round" opacity="1.0"/><line x1="1232.2" y1="1801.1" x2="1275.3" y2="1759.4" stroke="#373737" stroke-width="12" stroke-linecap="round" opacity="1.0"/><line x1="1264.2" y1="1784.4" x2="1290.6" y2="1837.2" stroke="#2d2d2d" stroke-width="11" stroke-linecap="round" opacity="1.0"/><line x1="1225.3" y1="1834.4" x2="1285.0" y2="1845.6" stroke="#1e1e1e" stroke-width="12.5" stroke-linecap="round" opacity="1.0"/><line x1="1232.2" y1="1845.6" x2="1287.8" y2="1856.7" stroke="#2d2d2d" stroke-width="12.5" stroke-linecap="round" opacity="1.0"/><line x1="1328.0" y1="1827.5" x2="1400.3" y2="1837.2" stroke="#232323" stroke-width="12.5" stroke-linecap="round" opacity="1.0"/><line x1="1397.5" y1="1903.9" x2="1430.8" y2="1948.3" stroke="#191919" stroke-width="12.5" stroke-linecap="round" opacity="1.0"/><line x1="1532.3" y1="1987.7" x2="1584.8" y2="1999.0" stroke="#2d2d2d" stroke-width="10" stroke-linecap="round" opacity="1.0"/><line x1="1594.6" y1="1996.3" x2="1589.2" y2="2054.3" stroke="#282828" stroke-width="11" stroke-linecap="round" opacity="1.0"/><line x1="1608.1" y1="1993.1" x2="1605.4" y2="2038.0" stroke="#373737" stroke-width="10" stroke-linecap="round" opacity="1.0"/><line x1="1611.9" y1="2024.5" x2="1611.9" y2="2065.0" stroke="#323232" stroke-width="10" stroke-linecap="round" opacity="1.0"/><line x1="1702.8" y1="1986.6" x2="1729.9" y2="2043.4" stroke="#2d2d2d" stroke-width="11" stroke-linecap="round" opacity="1.0"/><line x1="1716.4" y1="1970.4" x2="1751.6" y2="2032.6" stroke="#232323" stroke-width="12" stroke-linecap="round" opacity="1.0"/><line x1="1711.0" y1="1986.6" x2="1743.4" y2="2038.0" stroke="#3c3c3c" stroke-width="11" stroke-linecap="round" opacity="1.0"/><line x1="1692.0" y1="2021.8" x2="1724.5" y2="2070.5" stroke="#464646" stroke-width="11" stroke-linecap="round" opacity="1.0"/><line x1="1667.6" y1="2097.6" x2="1711.0" y2="2070.5" stroke="#2d2d2d" stroke-width="10" stroke-linecap="round" opacity="1.0"/><line x1="1724.5" y1="2078.6" x2="1789.4" y2="2093.8" stroke="#3c3c3c" stroke-width="11" stroke-linecap="round" opacity="1.0"/><line x1="1740.7" y1="2073.2" x2="1821.9" y2="2086.7" stroke="#464646" stroke-width="11" stroke-linecap="round" opacity="1.0"/><line x1="1773.2" y1="2067.8" x2="1897.7" y2="2070.5" stroke="#323232" stroke-width="11" stroke-linecap="round" opacity="1.0"/><line x1="1816.5" y1="2059.7" x2="1878.7" y2="2059.7" stroke="#2d2d2d" stroke-width="10" stroke-linecap="round" opacity="1.0"/><line x1="1805.7" y1="2094.9" x2="1881.5" y2="2105.7" stroke="#323232" stroke-width="11" stroke-linecap="round" opacity="1.0"/><line x1="1838.1" y1="2086.7" x2="1886.9" y2="2092.2" stroke="#2d2d2d" stroke-width="10" stroke-linecap="round" opacity="1.0"/><line x1="1843.5" y1="2143.6" x2="1889.6" y2="2100.3" stroke="#2d2d2d" stroke-width="11" stroke-linecap="round" opacity="1.0"/><line x1="1865.2" y1="2178.8" x2="1892.3" y2="2132.7" stroke="#282828" stroke-width="11" stroke-linecap="round" opacity="1.0"/><line x1="1356.4" y1="2067.8" x2="1405.1" y2="2111.1" stroke="#373737" stroke-width="10" stroke-linecap="round" opacity="1.0"/><line x1="1383.5" y1="2073.2" x2="1462.0" y2="2104.6" stroke="#232323" stroke-width="11" stroke-linecap="round" opacity="1.0"/><line x1="1402.4" y1="2097.6" x2="1456.5" y2="2116.5" stroke="#282828" stroke-width="11" stroke-linecap="round" opacity="1.0"/><line x1="1378.1" y1="2121.9" x2="1443.0" y2="2127.3" stroke="#323232" stroke-width="11" stroke-linecap="round" opacity="1.0"/><line x1="1388.9" y1="2138.2" x2="1456.5" y2="2131.7" stroke="#2d2d2d" stroke-width="11" stroke-linecap="round" opacity="1.0"/><line x1="1551.3" y1="2140.9" x2="1556.7" y2="2132.7" stroke="#464646" stroke-width="6" stroke-linecap="round" opacity="1.0"/><line x1="1916.6" y1="1978.5" x2="1946.4" y2="1940.6" stroke="#282828" stroke-width="10" stroke-linecap="round" opacity="1.0"/><line x1="1968.0" y1="1997.4" x2="1951.8" y2="1948.7" stroke="#282828" stroke-width="10" stroke-linecap="round" opacity="1.0"/><line x1="1976.2" y1="1975.8" x2="1962.6" y2="1937.9" stroke="#323232" stroke-width="9" stroke-linecap="round" opacity="1.0"/><ellipse cx="1155.8" cy="1598.3" rx="13.9" ry="12.5" fill="#141414" transform="rotate(0 1155.8 1598.3)"/><ellipse cx="1164.2" cy="1619.2" rx="10.6" ry="11" fill="#141414" transform="rotate(0 1164.2 1619.2)"/><ellipse cx="1157.2" cy="1662.2" rx="18" ry="12.5" fill="#0f0f0f" transform="rotate(-20 1157.2 1662.2)"/><ellipse cx="1363.3" cy="1528.9" rx="8.3" ry="8.9" fill="#0f0f0f" transform="rotate(0 1363.3 1528.9)"/><ellipse cx="1425.3" cy="1699.7" rx="11" ry="10" fill="#0f0f0f" transform="rotate(0 1425.3 1699.7)"/><ellipse cx="1686.6" cy="2011.0" rx="10" ry="11" fill="#141414" transform="rotate(0 1686.6 2011.0)"/><ellipse cx="1735.3" cy="2051.6" rx="11" ry="10" fill="#141414" transform="rotate(0 1735.3 2051.6)"/><ellipse cx="1761.3" cy="2058.0" rx="11" ry="13" fill="#141414" transform="rotate(0 1761.3 2058.0)"/><ellipse cx="1748.8" cy="2100.3" rx="11" ry="13" fill="#0f0f0f" transform="rotate(0 1748.8 2100.3)"/></g></g><text transform="translate(1017.48,1538.30) scale(1.0000,1)" font-family="'Liberation Sans', sans-serif" font-weight="bold" font-size="62.40" text-anchor="start" fill="#000" >(f)</text><rect x="1056" y="2147.4" width="167.8" height="5.9" fill="#000"/><text transform="translate(1077.12,2128.40) scale(1.0538,1)" font-family="'Liberation Sans', sans-serif" font-weight="normal" font-size="41.40" text-anchor="start" fill="#000" >200 nm</text></g><g clip-path="url(#cfi)"><g filter="url(#nz5)"><rect x="1481" y="1454.5" width="513.5" height="479.5" fill="#bababa"/><g filter="url(#b16)"><ellipse cx="1780" cy="1452" rx="120" ry="34" fill="#505050"/><ellipse cx="1486" cy="1795" rx="32" ry="72" fill="#626262"/></g><g filter="url(#b10)"><path d="M1547,1552 A66,66 0 0 1 1679,1534 L1700,1570 L1790,1728 L1925,1890 L1945,1945 L1762,1945 L1731,1846 L1645,1702 Z" fill="#646464"/></g><g filter="url(#b6)" opacity="0.6"><polygon points="1749.6,1615.3 1803.2,1615.3 1816.3,1649.3 1803.2,1683.4 1749.6,1683.4 1735.1,1649.3" fill="#969696"/><polygon points="1820.6,1757.3 1880,1757.3 1896,1795.7 1880,1834.1 1820.6,1834.1 1801.8,1795.7" fill="#8c8c8c"/></g></g><line x1="1943.8" y1="1454.5" x2="1943.8" y2="1934" stroke="#5f5f5f" stroke-width="1.2"/><polygon points="1749.6,1615.3 1803.2,1615.3 1816.3,1649.3 1803.2,1683.4 1749.6,1683.4 1735.1,1649.3" fill="none" stroke="#000" stroke-width="5.6" stroke-dasharray="6.5 6"/><polygon points="1820.6,1757.3 1880,1757.3 1896,1795.7 1880,1834.1 1820.6,1834.1 1801.8,1795.7" fill="none" stroke="#000" stroke-width="5.6" stroke-dasharray="6.5 6"/><text transform="translate(1775.69,1564.00) scale(1.0000,1)" font-family="'Liberation Sans', sans-serif" font-weight="bold" font-size="36.40" text-anchor="start" fill="#000" >AuNRs</text><line x1="1773.8" y1="1540.0" x2="1730.6" y2="1540.0" stroke="#000" stroke-width="6.5"/><polygon points="1707.6,1540.0 1731.6,1528.0 1731.6,1552.0" fill="#000"/><text transform="translate(1864.01,1695.00) scale(1.0095,1)" font-family="'Liberation Sans', sans-serif" font-weight="bold" font-size="37.00" text-anchor="start" fill="#000" >GQDs</text><line x1="1881.0" y1="1654.4" x2="1843.0" y2="1645.3" stroke="#000" stroke-width="6.5"/><polygon points="1820.6,1640.0 1846.7,1633.9 1841.2,1657.2" fill="#000"/><line x1="1887.3" y1="1697.9" x2="1871.6" y2="1734.7" stroke="#000" stroke-width="6.5"/><polygon points="1862.6,1755.9 1861.0,1729.1 1883.0,1738.5" fill="#000"/><rect x="1507.7" y="1892" width="197" height="5.8" fill="#000"/><text transform="translate(1517.37,1883.40) scale(1.0425,1)" font-family="'Liberation Sans', sans-serif" font-weight="normal" font-size="37.00" text-anchor="start" fill="#000" >20 nm</text></g></g>
</svg>
</body></html>
